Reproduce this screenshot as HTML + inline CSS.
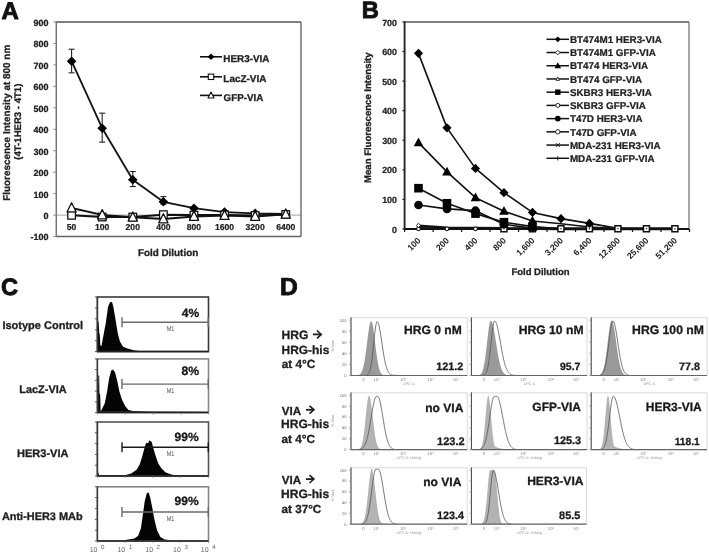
<!DOCTYPE html>
<html><head><meta charset="utf-8"><style>
html,body{margin:0;padding:0;background:#fff;}
body{width:709px;height:555px;overflow:hidden;}
svg{display:block;font-family:"Liberation Sans", sans-serif;text-rendering:geometricPrecision;filter:blur(0.4px);}
</style></head><body>
<svg width="709" height="555" viewBox="0 0 709 555">
<rect width="709" height="555" fill="#fff"/>
<text x="1.47" y="18.65" font-size="23.97" font-weight="bold" fill="#111" stroke="#111" stroke-width="0.9" stroke-linejoin="round">A</text>
<text x="361.63" y="18.25" font-size="23.71" font-weight="bold" fill="#111" stroke="#111" stroke-width="0.9" stroke-linejoin="round">B</text>
<text x="1.1" y="295.35" font-size="23.64" font-weight="bold" fill="#111" stroke="#111" stroke-width="0.9" stroke-linejoin="round">C</text>
<text x="279.97" y="295.05" font-size="24.6" font-weight="bold" fill="#111" stroke="#111" stroke-width="0.9" stroke-linejoin="round">D</text>
<line x1="56.3" y1="215.1" x2="301" y2="215.1" stroke="#b4b4b4" stroke-width="1.2" />
<line x1="56.3" y1="22" x2="301" y2="22" stroke="#555" stroke-width="1.5" />
<line x1="301" y1="22" x2="301" y2="236.5" stroke="#5a5a5a" stroke-width="1.3" />
<line x1="56.3" y1="236.5" x2="301" y2="236.5" stroke="#666" stroke-width="1.5" />
<line x1="56.3" y1="21.3" x2="56.3" y2="237.2" stroke="#777" stroke-width="1.5" />
<line x1="53.3" y1="21.96" x2="56.3" y2="21.96" stroke="#888" stroke-width="1" />
<text x="48.5" y="25.86" font-size="9" text-anchor="end" font-weight="bold" fill="#222" stroke="#222" stroke-width="0.24" stroke-linejoin="round" >900</text>
<line x1="53.3" y1="43.42" x2="56.3" y2="43.42" stroke="#888" stroke-width="1" />
<text x="48.5" y="47.32" font-size="9" text-anchor="end" font-weight="bold" fill="#222" stroke="#222" stroke-width="0.24" stroke-linejoin="round" >800</text>
<line x1="53.3" y1="64.88" x2="56.3" y2="64.88" stroke="#888" stroke-width="1" />
<text x="48.5" y="68.78" font-size="9" text-anchor="end" font-weight="bold" fill="#222" stroke="#222" stroke-width="0.24" stroke-linejoin="round" >700</text>
<line x1="53.3" y1="86.34" x2="56.3" y2="86.34" stroke="#888" stroke-width="1" />
<text x="48.5" y="90.24" font-size="9" text-anchor="end" font-weight="bold" fill="#222" stroke="#222" stroke-width="0.24" stroke-linejoin="round" >600</text>
<line x1="53.3" y1="107.8" x2="56.3" y2="107.8" stroke="#888" stroke-width="1" />
<text x="48.5" y="111.7" font-size="9" text-anchor="end" font-weight="bold" fill="#222" stroke="#222" stroke-width="0.24" stroke-linejoin="round" >500</text>
<line x1="53.3" y1="129.26" x2="56.3" y2="129.26" stroke="#888" stroke-width="1" />
<text x="48.5" y="133.16" font-size="9" text-anchor="end" font-weight="bold" fill="#222" stroke="#222" stroke-width="0.24" stroke-linejoin="round" >400</text>
<line x1="53.3" y1="150.72" x2="56.3" y2="150.72" stroke="#888" stroke-width="1" />
<text x="48.5" y="154.62" font-size="9" text-anchor="end" font-weight="bold" fill="#222" stroke="#222" stroke-width="0.24" stroke-linejoin="round" >300</text>
<line x1="53.3" y1="172.18" x2="56.3" y2="172.18" stroke="#888" stroke-width="1" />
<text x="48.5" y="176.08" font-size="9" text-anchor="end" font-weight="bold" fill="#222" stroke="#222" stroke-width="0.24" stroke-linejoin="round" >200</text>
<line x1="53.3" y1="193.64" x2="56.3" y2="193.64" stroke="#888" stroke-width="1" />
<text x="48.5" y="197.54" font-size="9" text-anchor="end" font-weight="bold" fill="#222" stroke="#222" stroke-width="0.24" stroke-linejoin="round" >100</text>
<line x1="53.3" y1="215.1" x2="56.3" y2="215.1" stroke="#888" stroke-width="1" />
<text x="48.5" y="219" font-size="9" text-anchor="end" font-weight="bold" fill="#222" stroke="#222" stroke-width="0.24" stroke-linejoin="round" >0</text>
<line x1="53.3" y1="236.56" x2="56.3" y2="236.56" stroke="#888" stroke-width="1" />
<text x="48.5" y="240.46" font-size="9" text-anchor="end" font-weight="bold" fill="#222" stroke="#222" stroke-width="0.24" stroke-linejoin="round" >-100</text>
<text x="71.6" y="230.2" font-size="8.6" text-anchor="middle" font-weight="bold" fill="#222" stroke="#222" stroke-width="0.24" stroke-linejoin="round" >50</text>
<text x="102.19" y="230.2" font-size="8.6" text-anchor="middle" font-weight="bold" fill="#222" stroke="#222" stroke-width="0.24" stroke-linejoin="round" >100</text>
<text x="132.78" y="230.2" font-size="8.6" text-anchor="middle" font-weight="bold" fill="#222" stroke="#222" stroke-width="0.24" stroke-linejoin="round" >200</text>
<text x="163.37" y="230.2" font-size="8.6" text-anchor="middle" font-weight="bold" fill="#222" stroke="#222" stroke-width="0.24" stroke-linejoin="round" >400</text>
<text x="193.96" y="230.2" font-size="8.6" text-anchor="middle" font-weight="bold" fill="#222" stroke="#222" stroke-width="0.24" stroke-linejoin="round" >800</text>
<text x="224.55" y="230.2" font-size="8.6" text-anchor="middle" font-weight="bold" fill="#222" stroke="#222" stroke-width="0.24" stroke-linejoin="round" >1600</text>
<text x="255.14" y="230.2" font-size="8.6" text-anchor="middle" font-weight="bold" fill="#222" stroke="#222" stroke-width="0.24" stroke-linejoin="round" >3200</text>
<text x="285.73" y="230.2" font-size="8.6" text-anchor="middle" font-weight="bold" fill="#222" stroke="#222" stroke-width="0.24" stroke-linejoin="round" >6400</text>
<text x="137.96" y="256.05" font-size="9.87" font-weight="bold" fill="#222" stroke="#222" stroke-width="0.3" stroke-linejoin="round">Fold Dilution</text>
<text transform="translate(10.1,200.85) rotate(-90)" font-size="9.94" font-weight="bold" fill="#222" stroke="#222" stroke-width="0.3" stroke-linejoin="round">Fluorescence Intensity at 800 nm</text>
<text transform="translate(21.3,159.73) rotate(-90)" font-size="9.58" font-weight="bold" fill="#222" stroke="#222" stroke-width="0.3" stroke-linejoin="round">(4T-1HER3 - 4T1)</text>
<polyline points="71.6,215.31 102.19,217.03 132.78,217.03 163.37,214.67 193.96,215.1 224.55,214.89 255.14,215.53 285.73,214.46" fill="none" stroke="#111" stroke-width="2" stroke-linejoin="round" />
<polyline points="71.6,208.02 102.19,214.89 132.78,217.25 163.37,218.96 193.96,216.39 224.55,215.53 255.14,216.39 285.73,214.24" fill="none" stroke="#111" stroke-width="2" stroke-linejoin="round" />
<polyline points="71.6,61.23 102.19,128.19 132.78,179.69 163.37,201.79 193.96,208.23 224.55,212.1 255.14,213.38 285.73,213.81" fill="none" stroke="#111" stroke-width="1.8" stroke-linejoin="round" />
<line x1="71.6" y1="72.82" x2="71.6" y2="49.21" stroke="#222" stroke-width="1.1" />
<line x1="68.6" y1="72.82" x2="74.6" y2="72.82" stroke="#222" stroke-width="1.1" />
<line x1="68.6" y1="49.21" x2="74.6" y2="49.21" stroke="#222" stroke-width="1.1" />
<line x1="102.19" y1="142.14" x2="102.19" y2="113.16" stroke="#222" stroke-width="1.1" />
<line x1="99.19" y1="142.14" x2="105.19" y2="142.14" stroke="#222" stroke-width="1.1" />
<line x1="99.19" y1="113.16" x2="105.19" y2="113.16" stroke="#222" stroke-width="1.1" />
<line x1="132.78" y1="186.56" x2="132.78" y2="171.54" stroke="#222" stroke-width="1.1" />
<line x1="129.78" y1="186.56" x2="135.78" y2="186.56" stroke="#222" stroke-width="1.1" />
<line x1="129.78" y1="171.54" x2="135.78" y2="171.54" stroke="#222" stroke-width="1.1" />
<line x1="163.37" y1="204.16" x2="163.37" y2="196.64" stroke="#222" stroke-width="1.1" />
<line x1="160.37" y1="204.16" x2="166.37" y2="204.16" stroke="#222" stroke-width="1.1" />
<line x1="160.37" y1="196.64" x2="166.37" y2="196.64" stroke="#222" stroke-width="1.1" />
<path d="M71.6,56.43 L76.4,61.23 L71.6,66.03 L66.8,61.23 Z" fill="#000" stroke="none" stroke-width="1" />
<path d="M102.19,123.39 L106.99,128.19 L102.19,132.99 L97.39,128.19 Z" fill="#000" stroke="none" stroke-width="1" />
<path d="M132.78,174.89 L137.58,179.69 L132.78,184.49 L127.98,179.69 Z" fill="#000" stroke="none" stroke-width="1" />
<path d="M163.37,196.99 L168.17,201.79 L163.37,206.59 L158.57,201.79 Z" fill="#000" stroke="none" stroke-width="1" />
<path d="M193.96,203.43 L198.76,208.23 L193.96,213.03 L189.16,208.23 Z" fill="#000" stroke="none" stroke-width="1" />
<path d="M224.55,207.3 L229.35,212.1 L224.55,216.9 L219.75,212.1 Z" fill="#000" stroke="none" stroke-width="1" />
<path d="M255.14,208.58 L259.94,213.38 L255.14,218.18 L250.34,213.38 Z" fill="#000" stroke="none" stroke-width="1" />
<path d="M285.73,209.01 L290.53,213.81 L285.73,218.61 L280.93,213.81 Z" fill="#000" stroke="none" stroke-width="1" />
<rect x="67.8" y="211.51" width="7.6" height="7.6" fill="#fff" stroke="#111" stroke-width="1.3"/>
<rect x="98.39" y="213.23" width="7.6" height="7.6" fill="#fff" stroke="#111" stroke-width="1.3"/>
<rect x="128.98" y="213.23" width="7.6" height="7.6" fill="#fff" stroke="#111" stroke-width="1.3"/>
<rect x="159.57" y="210.87" width="7.6" height="7.6" fill="#fff" stroke="#111" stroke-width="1.3"/>
<rect x="190.16" y="211.3" width="7.6" height="7.6" fill="#fff" stroke="#111" stroke-width="1.3"/>
<rect x="220.75" y="211.09" width="7.6" height="7.6" fill="#fff" stroke="#111" stroke-width="1.3"/>
<rect x="251.34" y="211.73" width="7.6" height="7.6" fill="#fff" stroke="#111" stroke-width="1.3"/>
<rect x="281.93" y="210.66" width="7.6" height="7.6" fill="#fff" stroke="#111" stroke-width="1.3"/>
<path d="M71.6,202.73 L76.2,211.93 L67,211.93 Z" fill="#fff" stroke="#111" stroke-width="1.3" stroke-linejoin="round"/>
<path d="M102.19,209.6 L106.79,218.8 L97.59,218.8 Z" fill="#fff" stroke="#111" stroke-width="1.3" stroke-linejoin="round"/>
<path d="M132.78,211.96 L137.38,221.16 L128.18,221.16 Z" fill="#fff" stroke="#111" stroke-width="1.3" stroke-linejoin="round"/>
<path d="M163.37,213.67 L167.97,222.87 L158.77,222.87 Z" fill="#fff" stroke="#111" stroke-width="1.3" stroke-linejoin="round"/>
<path d="M193.96,211.1 L198.56,220.3 L189.36,220.3 Z" fill="#fff" stroke="#111" stroke-width="1.3" stroke-linejoin="round"/>
<path d="M224.55,210.24 L229.15,219.44 L219.95,219.44 Z" fill="#fff" stroke="#111" stroke-width="1.3" stroke-linejoin="round"/>
<path d="M255.14,211.1 L259.74,220.3 L250.54,220.3 Z" fill="#fff" stroke="#111" stroke-width="1.3" stroke-linejoin="round"/>
<path d="M285.73,208.95 L290.33,218.15 L281.13,218.15 Z" fill="#fff" stroke="#111" stroke-width="1.3" stroke-linejoin="round"/>
<line x1="200" y1="56.8" x2="222" y2="56.8" stroke="#111" stroke-width="1.6" />
<path d="M211,53.5 L214.3,56.8 L211,60.1 L207.7,56.8 Z" fill="#000" stroke="none" stroke-width="1" />
<text x="223.36" y="62.05" font-size="9.88" font-weight="bold" fill="#222" stroke="#222" stroke-width="0.3" stroke-linejoin="round">HER3-VIA</text>
<line x1="200" y1="76.8" x2="222" y2="76.8" stroke="#111" stroke-width="1.6" />
<rect x="208.3" y="74.1" width="5.4" height="5.4" fill="#fff" stroke="#111" stroke-width="1.1"/>
<text x="223.35" y="82.05" font-size="9.93" font-weight="bold" fill="#222" stroke="#222" stroke-width="0.3" stroke-linejoin="round">LacZ-VIA</text>
<line x1="200" y1="95.4" x2="222" y2="95.4" stroke="#111" stroke-width="1.6" />
<path d="M211,91.95 L214,97.95 L208,97.95 Z" fill="#fff" stroke="#111" stroke-width="1.1" stroke-linejoin="round"/>
<text x="223.56" y="100.65" font-size="9.79" font-weight="bold" fill="#222" stroke="#222" stroke-width="0.3" stroke-linejoin="round">GFP-VIA</text>
<line x1="404.6" y1="22" x2="689" y2="22" stroke="#555" stroke-width="1.3" />
<line x1="689" y1="22" x2="689" y2="229" stroke="#777" stroke-width="1.3" />
<line x1="402.4" y1="22.01" x2="404.6" y2="22.01" stroke="#222" stroke-width="1.2" />
<text x="397" y="25.61" font-size="8.9" text-anchor="end" font-weight="bold" fill="#222" stroke="#222" stroke-width="0.24" stroke-linejoin="round" >700</text>
<line x1="402.4" y1="51.58" x2="404.6" y2="51.58" stroke="#222" stroke-width="1.2" />
<text x="397" y="55.18" font-size="8.9" text-anchor="end" font-weight="bold" fill="#222" stroke="#222" stroke-width="0.24" stroke-linejoin="round" >600</text>
<line x1="402.4" y1="81.15" x2="404.6" y2="81.15" stroke="#222" stroke-width="1.2" />
<text x="397" y="84.75" font-size="8.9" text-anchor="end" font-weight="bold" fill="#222" stroke="#222" stroke-width="0.24" stroke-linejoin="round" >500</text>
<line x1="402.4" y1="110.72" x2="404.6" y2="110.72" stroke="#222" stroke-width="1.2" />
<text x="397" y="114.32" font-size="8.9" text-anchor="end" font-weight="bold" fill="#222" stroke="#222" stroke-width="0.24" stroke-linejoin="round" >400</text>
<line x1="402.4" y1="140.29" x2="404.6" y2="140.29" stroke="#222" stroke-width="1.2" />
<text x="397" y="143.89" font-size="8.9" text-anchor="end" font-weight="bold" fill="#222" stroke="#222" stroke-width="0.24" stroke-linejoin="round" >300</text>
<line x1="402.4" y1="169.86" x2="404.6" y2="169.86" stroke="#222" stroke-width="1.2" />
<text x="397" y="173.46" font-size="8.9" text-anchor="end" font-weight="bold" fill="#222" stroke="#222" stroke-width="0.24" stroke-linejoin="round" >200</text>
<line x1="402.4" y1="199.43" x2="404.6" y2="199.43" stroke="#222" stroke-width="1.2" />
<text x="397" y="203.03" font-size="8.9" text-anchor="end" font-weight="bold" fill="#222" stroke="#222" stroke-width="0.24" stroke-linejoin="round" >100</text>
<line x1="402.4" y1="229" x2="404.6" y2="229" stroke="#222" stroke-width="1.2" />
<text x="397" y="232.6" font-size="8.9" text-anchor="end" font-weight="bold" fill="#222" stroke="#222" stroke-width="0.24" stroke-linejoin="round" >0</text>
<line x1="404.6" y1="229" x2="404.6" y2="232" stroke="#111" stroke-width="1.2" />
<line x1="433.09" y1="229" x2="433.09" y2="232" stroke="#111" stroke-width="1.2" />
<line x1="461.58" y1="229" x2="461.58" y2="232" stroke="#111" stroke-width="1.2" />
<line x1="490.07" y1="229" x2="490.07" y2="232" stroke="#111" stroke-width="1.2" />
<line x1="518.56" y1="229" x2="518.56" y2="232" stroke="#111" stroke-width="1.2" />
<line x1="547.05" y1="229" x2="547.05" y2="232" stroke="#111" stroke-width="1.2" />
<line x1="575.54" y1="229" x2="575.54" y2="232" stroke="#111" stroke-width="1.2" />
<line x1="604.03" y1="229" x2="604.03" y2="232" stroke="#111" stroke-width="1.2" />
<line x1="632.52" y1="229" x2="632.52" y2="232" stroke="#111" stroke-width="1.2" />
<line x1="661.01" y1="229" x2="661.01" y2="232" stroke="#111" stroke-width="1.2" />
<line x1="689.5" y1="229" x2="689.5" y2="232" stroke="#111" stroke-width="1.2" />
<text transform="translate(419,238.9) rotate(-45)" font-size="8.6" font-weight="bold" text-anchor="end" fill="#222" dy="3">100</text>
<text transform="translate(447.49,238.9) rotate(-45)" font-size="8.6" font-weight="bold" text-anchor="end" fill="#222" dy="3">200</text>
<text transform="translate(475.98,238.9) rotate(-45)" font-size="8.6" font-weight="bold" text-anchor="end" fill="#222" dy="3">400</text>
<text transform="translate(504.47,238.9) rotate(-45)" font-size="8.6" font-weight="bold" text-anchor="end" fill="#222" dy="3">800</text>
<text transform="translate(532.96,238.9) rotate(-45)" font-size="8.6" font-weight="bold" text-anchor="end" fill="#222" dy="3">1,600</text>
<text transform="translate(561.45,238.9) rotate(-45)" font-size="8.6" font-weight="bold" text-anchor="end" fill="#222" dy="3">3,200</text>
<text transform="translate(589.94,238.9) rotate(-45)" font-size="8.6" font-weight="bold" text-anchor="end" fill="#222" dy="3">6,400</text>
<text transform="translate(618.43,238.9) rotate(-45)" font-size="8.6" font-weight="bold" text-anchor="end" fill="#222" dy="3">12,800</text>
<text transform="translate(646.92,238.9) rotate(-45)" font-size="8.6" font-weight="bold" text-anchor="end" fill="#222" dy="3">25,600</text>
<text transform="translate(675.41,238.9) rotate(-45)" font-size="8.6" font-weight="bold" text-anchor="end" fill="#222" dy="3">51,200</text>
<text x="511.38" y="275.45" font-size="9.53" font-weight="bold" fill="#222" stroke="#222" stroke-width="0.3" stroke-linejoin="round">Fold Dilution</text>
<text transform="translate(371.2,182.92) rotate(-90)" font-size="9.56" font-weight="bold" fill="#222" stroke="#222" stroke-width="0.3" stroke-linejoin="round">Mean Fluorescence Intensity</text>
<polyline points="418.5,228.41 446.99,228.7 475.48,228.7 503.97,228.7 532.46,228.7 560.95,228.85 589.44,228.85 617.93,228.85 646.42,228.85 674.91,228.85" fill="none" stroke="#111" stroke-width="2.6" stroke-linejoin="round" />
<polyline points="418.5,225.75 446.99,227.82 475.48,228.11 503.97,228.41 532.46,228.7 560.95,228.7 589.44,228.7 617.93,228.7 646.42,228.7 674.91,228.7" fill="none" stroke="#111" stroke-width="2.6" stroke-linejoin="round" />
<polyline points="418.5,205.05 446.99,208.89 475.48,210.67 503.97,224.27 532.46,228.41 560.95,228.7 589.44,228.7 617.93,228.7 646.42,228.7 674.91,228.7" fill="none" stroke="#111" stroke-width="1.6" stroke-linejoin="round" />
<polyline points="418.5,188.19 446.99,203.27 475.48,213.62 503.97,222.2 532.46,226.63 560.95,228.7 589.44,228.7 617.93,228.7 646.42,228.7 674.91,228.7" fill="none" stroke="#111" stroke-width="1.6" stroke-linejoin="round" />
<polyline points="418.5,142.66 446.99,171.93 475.48,197.66 503.97,211.26 532.46,221.02 560.95,223.68 589.44,226.93 617.93,228.7 646.42,228.7 674.91,228.7" fill="none" stroke="#111" stroke-width="1.6" stroke-linejoin="round" />
<polyline points="418.5,53.35 446.99,127.87 475.48,168.38 503.97,192.63 532.46,212.44 560.95,218.65 589.44,223.38 617.93,228.41 646.42,228.7 674.91,228.7" fill="none" stroke="#111" stroke-width="1.6" stroke-linejoin="round" />
<line x1="404.6" y1="21.4" x2="404.6" y2="230" stroke="#262626" stroke-width="1.9" />
<line x1="404.6" y1="229" x2="689" y2="229" stroke="#111" stroke-width="1.8" />
<circle cx="418.5" cy="228.85" r="1.9" fill="#fff" stroke="#111" stroke-width="1.1"/>
<circle cx="446.99" cy="228.85" r="1.9" fill="#fff" stroke="#111" stroke-width="1.1"/>
<circle cx="475.48" cy="228.85" r="1.9" fill="#fff" stroke="#111" stroke-width="1.1"/>
<rect x="500.97" y="225.76" width="6" height="6" fill="#fff" stroke="#111" stroke-width="1.5"/>
<circle cx="503.97" cy="228.76" r="0.75" fill="#222" stroke="none" stroke-width="1"/>
<rect x="529.46" y="225.76" width="6" height="6" fill="#fff" stroke="#111" stroke-width="1.5"/>
<circle cx="532.46" cy="228.76" r="0.75" fill="#222" stroke="none" stroke-width="1"/>
<rect x="557.95" y="225.76" width="6" height="6" fill="#fff" stroke="#111" stroke-width="1.5"/>
<circle cx="560.95" cy="228.76" r="0.75" fill="#222" stroke="none" stroke-width="1"/>
<rect x="586.44" y="225.76" width="6" height="6" fill="#fff" stroke="#111" stroke-width="1.5"/>
<circle cx="589.44" cy="228.76" r="0.75" fill="#222" stroke="none" stroke-width="1"/>
<rect x="614.93" y="225.76" width="6" height="6" fill="#fff" stroke="#111" stroke-width="1.5"/>
<circle cx="617.93" cy="228.76" r="0.75" fill="#222" stroke="none" stroke-width="1"/>
<rect x="643.42" y="225.76" width="6" height="6" fill="#fff" stroke="#111" stroke-width="1.5"/>
<circle cx="646.42" cy="228.76" r="0.75" fill="#222" stroke="none" stroke-width="1"/>
<rect x="671.91" y="225.76" width="6" height="6" fill="#fff" stroke="#111" stroke-width="1.5"/>
<circle cx="674.91" cy="228.76" r="0.75" fill="#222" stroke="none" stroke-width="1"/>
<path d="M418.5,223.25 L420.7,225.45 L418.5,227.65 L416.3,225.45 Z" fill="#fff" stroke="#111" stroke-width="0.9" />
<circle cx="418.5" cy="205.05" r="4.3" fill="#000" stroke="none" stroke-width="1"/>
<circle cx="446.99" cy="208.89" r="4.3" fill="#000" stroke="none" stroke-width="1"/>
<circle cx="475.48" cy="210.67" r="4.3" fill="#000" stroke="none" stroke-width="1"/>
<circle cx="503.97" cy="224.27" r="4.3" fill="#000" stroke="none" stroke-width="1"/>
<rect x="414.2" y="183.89" width="8.6" height="8.6" fill="#000" stroke="none" stroke-width="0"/>
<rect x="442.69" y="198.97" width="8.6" height="8.6" fill="#000" stroke="none" stroke-width="0"/>
<rect x="471.18" y="209.32" width="8.6" height="8.6" fill="#000" stroke="none" stroke-width="0"/>
<rect x="499.67" y="217.9" width="8.6" height="8.6" fill="#000" stroke="none" stroke-width="0"/>
<rect x="528.16" y="222.33" width="8.6" height="8.6" fill="#000" stroke="none" stroke-width="0"/>
<path d="M418.5,137.46 L423.3,146.26 L413.7,146.26 Z" fill="#000" stroke="none" stroke-width="1" />
<path d="M446.99,166.73 L451.79,175.53 L442.19,175.53 Z" fill="#000" stroke="none" stroke-width="1" />
<path d="M475.48,192.46 L480.28,201.26 L470.68,201.26 Z" fill="#000" stroke="none" stroke-width="1" />
<path d="M503.97,206.06 L508.77,214.86 L499.17,214.86 Z" fill="#000" stroke="none" stroke-width="1" />
<path d="M532.46,215.82 L537.26,224.62 L527.66,224.62 Z" fill="#000" stroke="none" stroke-width="1" />
<path d="M418.5,48.75 L423.1,53.35 L418.5,57.95 L413.9,53.35 Z" fill="#000" stroke="none" stroke-width="1" />
<path d="M446.99,123.27 L451.59,127.87 L446.99,132.47 L442.39,127.87 Z" fill="#000" stroke="none" stroke-width="1" />
<path d="M475.48,163.78 L480.08,168.38 L475.48,172.98 L470.88,168.38 Z" fill="#000" stroke="none" stroke-width="1" />
<path d="M503.97,188.03 L508.57,192.63 L503.97,197.23 L499.37,192.63 Z" fill="#000" stroke="none" stroke-width="1" />
<path d="M532.46,207.84 L537.06,212.44 L532.46,217.04 L527.86,212.44 Z" fill="#000" stroke="none" stroke-width="1" />
<path d="M560.95,214.05 L565.55,218.65 L560.95,223.25 L556.35,218.65 Z" fill="#000" stroke="none" stroke-width="1" />
<path d="M589.44,218.78 L594.04,223.38 L589.44,227.98 L584.84,223.38 Z" fill="#000" stroke="none" stroke-width="1" />
<line x1="546.5" y1="39.3" x2="569" y2="39.3" stroke="#111" stroke-width="1.5" />
<path d="M557.8,36.4 L560.7,39.3 L557.8,42.2 L554.9,39.3 Z" fill="#000" stroke="none" stroke-width="1" />
<text x="569.9" y="43" font-size="9.85" text-anchor="start" font-weight="bold" fill="#222" stroke="#222" stroke-width="0.24" stroke-linejoin="round" >BT474M1 HER3-VIA</text>
<line x1="546.5" y1="52.52" x2="569" y2="52.52" stroke="#111" stroke-width="1.5" />
<path d="M557.8,50.32 L560,52.52 L557.8,54.72 L555.6,52.52 Z" fill="#fff" stroke="#111" stroke-width="0.9" />
<text x="569.9" y="56.22" font-size="9.85" text-anchor="start" font-weight="bold" fill="#222" stroke="#222" stroke-width="0.24" stroke-linejoin="round" >BT474M1 GFP-VIA</text>
<line x1="546.5" y1="65.74" x2="569" y2="65.74" stroke="#111" stroke-width="1.5" />
<path d="M557.8,62.14 L561.1,68.14 L554.5,68.14 Z" fill="#000" stroke="none" stroke-width="1" />
<text x="569.9" y="69.44" font-size="9.85" text-anchor="start" font-weight="bold" fill="#222" stroke="#222" stroke-width="0.24" stroke-linejoin="round" >BT474 HER3-VIA</text>
<line x1="546.5" y1="78.96" x2="569" y2="78.96" stroke="#111" stroke-width="1.5" />
<path d="M557.8,76.96 L559.6,80.36 L556,80.36 Z" fill="#fff" stroke="#111" stroke-width="0.8" />
<text x="569.9" y="82.66" font-size="9.85" text-anchor="start" font-weight="bold" fill="#222" stroke="#222" stroke-width="0.24" stroke-linejoin="round" >BT474 GFP-VIA</text>
<line x1="546.5" y1="92.18" x2="569" y2="92.18" stroke="#111" stroke-width="1.5" />
<rect x="555.1" y="89.48" width="5.4" height="5.4" fill="#000" stroke="none" stroke-width="0"/>
<text x="569.9" y="95.88" font-size="9.85" text-anchor="start" font-weight="bold" fill="#222" stroke="#222" stroke-width="0.24" stroke-linejoin="round" >SKBR3 HER3-VIA</text>
<line x1="546.5" y1="105.4" x2="569" y2="105.4" stroke="#111" stroke-width="1.5" />
<circle cx="557.8" cy="105.4" r="2" fill="#fff" stroke="#111" stroke-width="0.9"/>
<text x="569.9" y="109.1" font-size="9.85" text-anchor="start" font-weight="bold" fill="#222" stroke="#222" stroke-width="0.24" stroke-linejoin="round" >SKBR3 GFP-VIA</text>
<line x1="546.5" y1="118.62" x2="569" y2="118.62" stroke="#111" stroke-width="1.5" />
<circle cx="557.8" cy="118.62" r="2.9" fill="#000" stroke="none" stroke-width="1"/>
<text x="569.9" y="122.32" font-size="9.85" text-anchor="start" font-weight="bold" fill="#222" stroke="#222" stroke-width="0.24" stroke-linejoin="round" >T47D HER3-VIA</text>
<line x1="546.5" y1="131.84" x2="569" y2="131.84" stroke="#111" stroke-width="1.5" />
<circle cx="557.8" cy="131.84" r="2.2" fill="#fff" stroke="#111" stroke-width="0.9"/>
<text x="569.9" y="135.54" font-size="9.85" text-anchor="start" font-weight="bold" fill="#222" stroke="#222" stroke-width="0.24" stroke-linejoin="round" >T47D GFP-VIA</text>
<line x1="546.5" y1="145.06" x2="569" y2="145.06" stroke="#111" stroke-width="1.5" />
<line x1="555.8" y1="143.06" x2="559.8" y2="147.06" stroke="#111" stroke-width="0.9" />
<line x1="555.8" y1="147.06" x2="559.8" y2="143.06" stroke="#111" stroke-width="0.9" />
<text x="569.9" y="148.76" font-size="9.85" text-anchor="start" font-weight="bold" fill="#222" stroke="#222" stroke-width="0.24" stroke-linejoin="round" >MDA-231 HER3-VIA</text>
<line x1="546.5" y1="158.28" x2="569" y2="158.28" stroke="#111" stroke-width="1.5" />
<line x1="557.8" y1="156.08" x2="557.8" y2="160.48" stroke="#111" stroke-width="0.9" />
<text x="569.9" y="161.98" font-size="9.85" text-anchor="start" font-weight="bold" fill="#222" stroke="#222" stroke-width="0.24" stroke-linejoin="round" >MDA-231 GFP-VIA</text>
<path d="M97.6,351.6 L97.6,351.5 L97.8,321.5 L98.6,321.8 L99.3,333 L99.8,335 L100.3,345.3 L101.5,345.9 L103.7,334 L105.8,323.1 L108,306.9 L109.8,302.5 L111.2,301.8 L112.2,302.5 L113.4,306.9 L115.6,319.9 L117.7,332.9 L119.9,341.5 L123.1,346.7 L127.5,348.5 L132.9,350 L138.3,350.9 L150,351.2 L208,351.3 L208,351.6 Z" fill="#050505" stroke="none" stroke-width="1" />
<rect x="97.4" y="297" width="111.1" height="54.6" fill="none" stroke="#3a3a3a" stroke-width="1.6"/>
<line x1="97.4" y1="351.6" x2="208.5" y2="351.6" stroke="#222" stroke-width="1.5" />
<line x1="97.4" y1="297" x2="97.4" y2="351.6" stroke="#333" stroke-width="1.3" />
<line x1="94.9" y1="297" x2="97.4" y2="297" stroke="#444" stroke-width="0.9" />
<line x1="95.9" y1="299.73" x2="97.4" y2="299.73" stroke="#777" stroke-width="0.6" />
<line x1="95.9" y1="302.46" x2="97.4" y2="302.46" stroke="#777" stroke-width="0.6" />
<line x1="95.9" y1="305.19" x2="97.4" y2="305.19" stroke="#777" stroke-width="0.6" />
<line x1="94.9" y1="307.92" x2="97.4" y2="307.92" stroke="#444" stroke-width="0.9" />
<line x1="95.9" y1="310.65" x2="97.4" y2="310.65" stroke="#777" stroke-width="0.6" />
<line x1="95.9" y1="313.38" x2="97.4" y2="313.38" stroke="#777" stroke-width="0.6" />
<line x1="95.9" y1="316.11" x2="97.4" y2="316.11" stroke="#777" stroke-width="0.6" />
<line x1="94.9" y1="318.84" x2="97.4" y2="318.84" stroke="#444" stroke-width="0.9" />
<line x1="95.9" y1="321.57" x2="97.4" y2="321.57" stroke="#777" stroke-width="0.6" />
<line x1="95.9" y1="324.3" x2="97.4" y2="324.3" stroke="#777" stroke-width="0.6" />
<line x1="95.9" y1="327.03" x2="97.4" y2="327.03" stroke="#777" stroke-width="0.6" />
<line x1="94.9" y1="329.76" x2="97.4" y2="329.76" stroke="#444" stroke-width="0.9" />
<line x1="95.9" y1="332.49" x2="97.4" y2="332.49" stroke="#777" stroke-width="0.6" />
<line x1="95.9" y1="335.22" x2="97.4" y2="335.22" stroke="#777" stroke-width="0.6" />
<line x1="95.9" y1="337.95" x2="97.4" y2="337.95" stroke="#777" stroke-width="0.6" />
<line x1="94.9" y1="340.68" x2="97.4" y2="340.68" stroke="#444" stroke-width="0.9" />
<line x1="95.9" y1="343.41" x2="97.4" y2="343.41" stroke="#777" stroke-width="0.6" />
<line x1="95.9" y1="346.14" x2="97.4" y2="346.14" stroke="#777" stroke-width="0.6" />
<line x1="95.9" y1="348.87" x2="97.4" y2="348.87" stroke="#777" stroke-width="0.6" />
<line x1="94.9" y1="351.6" x2="97.4" y2="351.6" stroke="#444" stroke-width="0.9" />
<line x1="122" y1="322.2" x2="208.3" y2="322.2" stroke="#6a6a6a" stroke-width="1.4" />
<line x1="122" y1="317.2" x2="122" y2="327.2" stroke="#6a6a6a" stroke-width="1.4" />
<line x1="208.3" y1="317.2" x2="208.3" y2="327.2" stroke="#6a6a6a" stroke-width="1.4" />
<text x="170.6" y="331.1" font-size="7" text-anchor="middle" font-weight="normal" fill="#4a4a4a" textLength="7.6" lengthAdjust="spacingAndGlyphs">M1</text>
<text x="181.83" y="316.65" font-size="12" font-weight="bold" fill="#1a1a1a" stroke="#1a1a1a" stroke-width="0.3" stroke-linejoin="round">4%</text>
<text x="2.39" y="328.65" font-size="11.03" font-weight="bold" fill="#1e1e1e" stroke="#1e1e1e" stroke-width="0.3" stroke-linejoin="round">Isotype Control</text>
<path d="M97.8,412.6 L97.8,412.6 L98.2,375.4 L99.2,375.6 L99.4,393.3 L100.2,395 L100.6,411 L101,411.1 L104.7,403.5 L106.9,392.7 L109.1,378.6 L111.2,370.5 L112.9,369.6 L115,372.2 L117.2,380.8 L119.4,391.6 L122,399.7 L125.3,406.2 L128.5,410 L132.9,411.1 L150,411.6 L208,411.8 L208,412.6 Z" fill="#050505" stroke="none" stroke-width="1" />
<rect x="97.4" y="358.9" width="111.1" height="53.7" fill="none" stroke="#888" stroke-width="1.6"/>
<line x1="97.4" y1="412.6" x2="208.5" y2="412.6" stroke="#222" stroke-width="1.5" />
<line x1="97.4" y1="358.9" x2="97.4" y2="412.6" stroke="#333" stroke-width="1.3" />
<line x1="94.9" y1="358.9" x2="97.4" y2="358.9" stroke="#444" stroke-width="0.9" />
<line x1="95.9" y1="361.58" x2="97.4" y2="361.58" stroke="#777" stroke-width="0.6" />
<line x1="95.9" y1="364.27" x2="97.4" y2="364.27" stroke="#777" stroke-width="0.6" />
<line x1="95.9" y1="366.95" x2="97.4" y2="366.95" stroke="#777" stroke-width="0.6" />
<line x1="94.9" y1="369.64" x2="97.4" y2="369.64" stroke="#444" stroke-width="0.9" />
<line x1="95.9" y1="372.32" x2="97.4" y2="372.32" stroke="#777" stroke-width="0.6" />
<line x1="95.9" y1="375.01" x2="97.4" y2="375.01" stroke="#777" stroke-width="0.6" />
<line x1="95.9" y1="377.69" x2="97.4" y2="377.69" stroke="#777" stroke-width="0.6" />
<line x1="94.9" y1="380.38" x2="97.4" y2="380.38" stroke="#444" stroke-width="0.9" />
<line x1="95.9" y1="383.06" x2="97.4" y2="383.06" stroke="#777" stroke-width="0.6" />
<line x1="95.9" y1="385.75" x2="97.4" y2="385.75" stroke="#777" stroke-width="0.6" />
<line x1="95.9" y1="388.44" x2="97.4" y2="388.44" stroke="#777" stroke-width="0.6" />
<line x1="94.9" y1="391.12" x2="97.4" y2="391.12" stroke="#444" stroke-width="0.9" />
<line x1="95.9" y1="393.81" x2="97.4" y2="393.81" stroke="#777" stroke-width="0.6" />
<line x1="95.9" y1="396.49" x2="97.4" y2="396.49" stroke="#777" stroke-width="0.6" />
<line x1="95.9" y1="399.18" x2="97.4" y2="399.18" stroke="#777" stroke-width="0.6" />
<line x1="94.9" y1="401.86" x2="97.4" y2="401.86" stroke="#444" stroke-width="0.9" />
<line x1="95.9" y1="404.55" x2="97.4" y2="404.55" stroke="#777" stroke-width="0.6" />
<line x1="95.9" y1="407.23" x2="97.4" y2="407.23" stroke="#777" stroke-width="0.6" />
<line x1="95.9" y1="409.92" x2="97.4" y2="409.92" stroke="#777" stroke-width="0.6" />
<line x1="94.9" y1="412.6" x2="97.4" y2="412.6" stroke="#444" stroke-width="0.9" />
<line x1="122" y1="384.1" x2="208.3" y2="384.1" stroke="#6a6a6a" stroke-width="1.4" />
<line x1="122" y1="379.1" x2="122" y2="389.1" stroke="#6a6a6a" stroke-width="1.4" />
<line x1="208.3" y1="379.1" x2="208.3" y2="389.1" stroke="#6a6a6a" stroke-width="1.4" />
<text x="170.6" y="393" font-size="7" text-anchor="middle" font-weight="normal" fill="#4a4a4a" textLength="7.6" lengthAdjust="spacingAndGlyphs">M1</text>
<text x="181.58" y="375.25" font-size="12.18" font-weight="bold" fill="#1a1a1a" stroke="#1a1a1a" stroke-width="0.3" stroke-linejoin="round">8%</text>
<text x="19.3" y="392.55" font-size="10.91" font-weight="bold" fill="#1e1e1e" stroke="#1e1e1e" stroke-width="0.3" stroke-linejoin="round">LacZ-VIA</text>
<path d="M97.8,476 L97.8,475.6 L98.2,472 L99,475.2 L125.8,475.1 L131.2,473.5 L136.6,469.7 L139.8,464.3 L142.5,455.6 L144.7,447 L146.3,442.7 L148,443.2 L149.6,440.3 L151.7,442.1 L153.3,448.1 L155.5,455.6 L158.2,463.2 L161.5,468.6 L165.8,472.4 L171.2,474.6 L175.5,475.3 L208,475.6 L208,476 Z" fill="#050505" stroke="none" stroke-width="1" />
<rect x="97.4" y="422" width="111.1" height="54" fill="none" stroke="#555" stroke-width="1.6"/>
<line x1="97.4" y1="476" x2="208.5" y2="476" stroke="#222" stroke-width="1.5" />
<line x1="97.4" y1="422" x2="97.4" y2="476" stroke="#333" stroke-width="1.3" />
<line x1="94.9" y1="422" x2="97.4" y2="422" stroke="#444" stroke-width="0.9" />
<line x1="95.9" y1="424.7" x2="97.4" y2="424.7" stroke="#777" stroke-width="0.6" />
<line x1="95.9" y1="427.4" x2="97.4" y2="427.4" stroke="#777" stroke-width="0.6" />
<line x1="95.9" y1="430.1" x2="97.4" y2="430.1" stroke="#777" stroke-width="0.6" />
<line x1="94.9" y1="432.8" x2="97.4" y2="432.8" stroke="#444" stroke-width="0.9" />
<line x1="95.9" y1="435.5" x2="97.4" y2="435.5" stroke="#777" stroke-width="0.6" />
<line x1="95.9" y1="438.2" x2="97.4" y2="438.2" stroke="#777" stroke-width="0.6" />
<line x1="95.9" y1="440.9" x2="97.4" y2="440.9" stroke="#777" stroke-width="0.6" />
<line x1="94.9" y1="443.6" x2="97.4" y2="443.6" stroke="#444" stroke-width="0.9" />
<line x1="95.9" y1="446.3" x2="97.4" y2="446.3" stroke="#777" stroke-width="0.6" />
<line x1="95.9" y1="449" x2="97.4" y2="449" stroke="#777" stroke-width="0.6" />
<line x1="95.9" y1="451.7" x2="97.4" y2="451.7" stroke="#777" stroke-width="0.6" />
<line x1="94.9" y1="454.4" x2="97.4" y2="454.4" stroke="#444" stroke-width="0.9" />
<line x1="95.9" y1="457.1" x2="97.4" y2="457.1" stroke="#777" stroke-width="0.6" />
<line x1="95.9" y1="459.8" x2="97.4" y2="459.8" stroke="#777" stroke-width="0.6" />
<line x1="95.9" y1="462.5" x2="97.4" y2="462.5" stroke="#777" stroke-width="0.6" />
<line x1="94.9" y1="465.2" x2="97.4" y2="465.2" stroke="#444" stroke-width="0.9" />
<line x1="95.9" y1="467.9" x2="97.4" y2="467.9" stroke="#777" stroke-width="0.6" />
<line x1="95.9" y1="470.6" x2="97.4" y2="470.6" stroke="#777" stroke-width="0.6" />
<line x1="95.9" y1="473.3" x2="97.4" y2="473.3" stroke="#777" stroke-width="0.6" />
<line x1="94.9" y1="476" x2="97.4" y2="476" stroke="#444" stroke-width="0.9" />
<line x1="122" y1="447.2" x2="208.3" y2="447.2" stroke="#1a1a1a" stroke-width="1.4" />
<line x1="122" y1="442.2" x2="122" y2="452.2" stroke="#1a1a1a" stroke-width="1.4" />
<line x1="208.3" y1="442.2" x2="208.3" y2="452.2" stroke="#1a1a1a" stroke-width="1.4" />
<text x="170.6" y="456.1" font-size="7" text-anchor="middle" font-weight="normal" fill="#4a4a4a" textLength="7.6" lengthAdjust="spacingAndGlyphs">M1</text>
<text x="174.59" y="441.25" font-size="12.04" font-weight="bold" fill="#1a1a1a" stroke="#1a1a1a" stroke-width="0.3" stroke-linejoin="round">99%</text>
<text x="16.99" y="456.65" font-size="11.04" font-weight="bold" fill="#1e1e1e" stroke="#1e1e1e" stroke-width="0.3" stroke-linejoin="round">HER3-VIA</text>
<path d="M97.8,541 L97.8,540.5 L123.6,540.2 L134.4,538.5 L138.2,535.8 L140.9,528.2 L143.1,513.1 L144.7,501.2 L146.9,493.1 L148.5,492.4 L150.1,496.9 L152.3,507.7 L154.4,519.6 L157.1,530.4 L160.4,536.9 L164.7,539.6 L171.2,540.3 L208,540.5 L208,541 Z" fill="#050505" stroke="none" stroke-width="1" />
<rect x="97.4" y="486.8" width="111.1" height="54.2" fill="none" stroke="#858585" stroke-width="1.6"/>
<line x1="97.4" y1="541" x2="208.5" y2="541" stroke="#222" stroke-width="1.5" />
<line x1="97.4" y1="486.8" x2="97.4" y2="541" stroke="#333" stroke-width="1.3" />
<line x1="94.9" y1="486.8" x2="97.4" y2="486.8" stroke="#444" stroke-width="0.9" />
<line x1="95.9" y1="489.51" x2="97.4" y2="489.51" stroke="#777" stroke-width="0.6" />
<line x1="95.9" y1="492.22" x2="97.4" y2="492.22" stroke="#777" stroke-width="0.6" />
<line x1="95.9" y1="494.93" x2="97.4" y2="494.93" stroke="#777" stroke-width="0.6" />
<line x1="94.9" y1="497.64" x2="97.4" y2="497.64" stroke="#444" stroke-width="0.9" />
<line x1="95.9" y1="500.35" x2="97.4" y2="500.35" stroke="#777" stroke-width="0.6" />
<line x1="95.9" y1="503.06" x2="97.4" y2="503.06" stroke="#777" stroke-width="0.6" />
<line x1="95.9" y1="505.77" x2="97.4" y2="505.77" stroke="#777" stroke-width="0.6" />
<line x1="94.9" y1="508.48" x2="97.4" y2="508.48" stroke="#444" stroke-width="0.9" />
<line x1="95.9" y1="511.19" x2="97.4" y2="511.19" stroke="#777" stroke-width="0.6" />
<line x1="95.9" y1="513.9" x2="97.4" y2="513.9" stroke="#777" stroke-width="0.6" />
<line x1="95.9" y1="516.61" x2="97.4" y2="516.61" stroke="#777" stroke-width="0.6" />
<line x1="94.9" y1="519.32" x2="97.4" y2="519.32" stroke="#444" stroke-width="0.9" />
<line x1="95.9" y1="522.03" x2="97.4" y2="522.03" stroke="#777" stroke-width="0.6" />
<line x1="95.9" y1="524.74" x2="97.4" y2="524.74" stroke="#777" stroke-width="0.6" />
<line x1="95.9" y1="527.45" x2="97.4" y2="527.45" stroke="#777" stroke-width="0.6" />
<line x1="94.9" y1="530.16" x2="97.4" y2="530.16" stroke="#444" stroke-width="0.9" />
<line x1="95.9" y1="532.87" x2="97.4" y2="532.87" stroke="#777" stroke-width="0.6" />
<line x1="95.9" y1="535.58" x2="97.4" y2="535.58" stroke="#777" stroke-width="0.6" />
<line x1="95.9" y1="538.29" x2="97.4" y2="538.29" stroke="#777" stroke-width="0.6" />
<line x1="94.9" y1="541" x2="97.4" y2="541" stroke="#444" stroke-width="0.9" />
<line x1="122" y1="512" x2="208.3" y2="512" stroke="#6a6a6a" stroke-width="1.4" />
<line x1="122" y1="507" x2="122" y2="517" stroke="#6a6a6a" stroke-width="1.4" />
<line x1="208.3" y1="507" x2="208.3" y2="517" stroke="#6a6a6a" stroke-width="1.4" />
<text x="170.6" y="520.9" font-size="7" text-anchor="middle" font-weight="normal" fill="#4a4a4a" textLength="7.6" lengthAdjust="spacingAndGlyphs">M1</text>
<text x="174.59" y="505.15" font-size="12.04" font-weight="bold" fill="#1a1a1a" stroke="#1a1a1a" stroke-width="0.3" stroke-linejoin="round">99%</text>
<text x="1.93" y="520.45" font-size="10.93" font-weight="bold" fill="#1e1e1e" stroke="#1e1e1e" stroke-width="0.3" stroke-linejoin="round">Anti-HER3 MAb</text>
<line x1="97.4" y1="412.6" x2="97.4" y2="414.6" stroke="#777" stroke-width="0.7" />
<line x1="125.18" y1="412.6" x2="125.18" y2="414.6" stroke="#777" stroke-width="0.7" />
<line x1="152.95" y1="412.6" x2="152.95" y2="414.6" stroke="#777" stroke-width="0.7" />
<line x1="180.72" y1="412.6" x2="180.72" y2="414.6" stroke="#777" stroke-width="0.7" />
<line x1="208.5" y1="412.6" x2="208.5" y2="414.6" stroke="#777" stroke-width="0.7" />
<line x1="97.4" y1="476" x2="97.4" y2="478" stroke="#777" stroke-width="0.7" />
<line x1="125.18" y1="476" x2="125.18" y2="478" stroke="#777" stroke-width="0.7" />
<line x1="152.95" y1="476" x2="152.95" y2="478" stroke="#777" stroke-width="0.7" />
<line x1="180.72" y1="476" x2="180.72" y2="478" stroke="#777" stroke-width="0.7" />
<line x1="208.5" y1="476" x2="208.5" y2="478" stroke="#777" stroke-width="0.7" />
<line x1="97.4" y1="541" x2="97.4" y2="543" stroke="#777" stroke-width="0.7" />
<line x1="125.18" y1="541" x2="125.18" y2="543" stroke="#777" stroke-width="0.7" />
<line x1="152.95" y1="541" x2="152.95" y2="543" stroke="#777" stroke-width="0.7" />
<line x1="180.72" y1="541" x2="180.72" y2="543" stroke="#777" stroke-width="0.7" />
<line x1="208.5" y1="541" x2="208.5" y2="543" stroke="#777" stroke-width="0.7" />
<text x="93.6" y="552.2" font-size="7" text-anchor="middle" font-weight="normal" fill="#666" >10</text>
<text x="102.8" y="548.6" font-size="6.2" text-anchor="middle" font-weight="normal" fill="#666" >0</text>
<text x="121.38" y="552.2" font-size="7" text-anchor="middle" font-weight="normal" fill="#666" >10</text>
<text x="130.58" y="548.6" font-size="6.2" text-anchor="middle" font-weight="normal" fill="#666" >1</text>
<text x="149.15" y="552.2" font-size="7" text-anchor="middle" font-weight="normal" fill="#666" >10</text>
<text x="158.35" y="548.6" font-size="6.2" text-anchor="middle" font-weight="normal" fill="#666" >2</text>
<text x="176.92" y="552.2" font-size="7" text-anchor="middle" font-weight="normal" fill="#666" >10</text>
<text x="186.12" y="548.6" font-size="6.2" text-anchor="middle" font-weight="normal" fill="#666" >3</text>
<text x="204.7" y="552.2" font-size="7" text-anchor="middle" font-weight="normal" fill="#666" >10</text>
<text x="213.9" y="548.6" font-size="6.2" text-anchor="middle" font-weight="normal" fill="#666" >4</text>
<rect x="351" y="317.8" width="116.2" height="57.7" fill="none" stroke="#d4d4d4" stroke-width="0.9"/>
<path d="M357.2,375.5 L357.2,375.34 L357.6,375.28 L358,375.19 L358.4,375.08 L358.8,374.94 L359.2,374.75 L359.6,374.51 L360,374.2 L360.4,373.81 L360.8,373.32 L361.2,372.72 L361.6,371.99 L362,371.11 L362.4,370.06 L362.8,368.83 L363.2,367.39 L363.6,365.74 L364,363.86 L364.4,361.75 L364.8,359.41 L365.2,356.86 L365.6,354.1 L366,351.16 L366.4,348.09 L366.8,344.91 L367.2,341.7 L367.6,338.5 L368,335.38 L368.4,332.42 L368.8,329.67 L369.2,327.2 L369.6,325.09 L370,323.38 L370.4,322.13 L370.8,321.36 L371.2,321.1 L371.6,321.39 L372,322.23 L372.4,323.62 L372.8,325.49 L373.2,327.8 L373.6,330.48 L374,333.46 L374.4,336.65 L374.8,339.97 L375.2,343.35 L375.6,346.71 L376,349.99 L376.4,353.14 L376.8,356.1 L377.2,358.84 L377.6,361.35 L378,363.6 L378.4,365.6 L378.8,367.35 L379.2,368.86 L379.6,370.15 L380,371.23 L380.4,372.13 L380.8,372.87 L381.2,373.47 L381.6,373.95 L382,374.32 L382.4,374.62 L382.8,374.85 L383.2,375.02 L383.6,375.15 L384,375.25 L384.4,375.32 L384.4,375.5 Z" fill="#9a9a9a" stroke="none" stroke-width="1" />
<path d="M366,375.31 L366.4,375.22 L366.8,375.09 L367.2,374.9 L367.6,374.64 L368,374.3 L368.4,373.83 L368.8,373.22 L369.2,372.43 L369.6,371.43 L370,370.17 L370.4,368.64 L370.8,366.79 L371.2,364.6 L371.6,362.06 L372,359.17 L372.4,355.95 L372.8,352.44 L373.2,348.69 L373.6,344.79 L374,340.83 L374.4,336.93 L374.8,333.22 L375.2,329.83 L375.6,326.89 L376,324.51 L376.4,322.8 L376.8,321.82 L377.2,321.61 L377.6,321.89 L378,322.54 L378.4,323.54 L378.8,324.88 L379.2,326.52 L379.6,328.44 L380,330.59 L380.4,332.94 L380.8,335.45 L381.2,338.08 L381.6,340.77 L382,343.49 L382.4,346.2 L382.8,348.87 L383.2,351.46 L383.6,353.95 L384,356.32 L384.4,358.54 L384.8,360.61 L385.2,362.52 L385.6,364.26 L386,365.84 L386.4,367.25 L386.8,368.5 L387.2,369.61 L387.6,370.57 L388,371.41 L388.4,372.13 L388.8,372.74 L389.2,373.25 L389.6,373.68 L390,374.04 L390.4,374.34 L390.8,374.58 L391.2,374.78 L391.6,374.94 L392,375.06 L392.4,375.16 L392.8,375.19 L393.2,375.21 L393.6,375.22 L394,375.24 L394.4,375.26 L394.8,375.27 L395.2,375.29 L395.6,375.3 L396,375.32 L396.4,375.33 L396.8,375.34 L397.2,375.35" fill="none" stroke="#555" stroke-width="0.8" />
<line x1="351" y1="317.3" x2="351" y2="375.5" stroke="#3a3a3a" stroke-width="0.95" />
<line x1="351" y1="375.5" x2="467.2" y2="375.5" stroke="#666" stroke-width="1.2" />
<line x1="349" y1="375.5" x2="351" y2="375.5" stroke="#888" stroke-width="0.7" />
<line x1="349" y1="364.42" x2="351" y2="364.42" stroke="#888" stroke-width="0.7" />
<line x1="349" y1="353.34" x2="351" y2="353.34" stroke="#888" stroke-width="0.7" />
<line x1="349" y1="342.26" x2="351" y2="342.26" stroke="#888" stroke-width="0.7" />
<line x1="349" y1="331.18" x2="351" y2="331.18" stroke="#888" stroke-width="0.7" />
<line x1="349" y1="320.1" x2="351" y2="320.1" stroke="#888" stroke-width="0.7" />
<text x="363.5" y="381" font-size="4.2" text-anchor="middle" font-weight="normal" fill="#888" >0</text>
<text x="376.5" y="381" font-size="4.2" text-anchor="middle" font-weight="normal" fill="#888" >10¹</text>
<text x="403" y="381" font-size="4.2" text-anchor="middle" font-weight="normal" fill="#888" >10²</text>
<text x="430.5" y="381" font-size="4.2" text-anchor="middle" font-weight="normal" fill="#888" >10³</text>
<text x="456" y="381" font-size="4.2" text-anchor="middle" font-weight="normal" fill="#888" >10⁴</text>
<text x="409" y="385" font-size="3.8" text-anchor="middle" font-weight="normal" fill="#999" >APC-A</text>
<text x="404.02" y="334.35" font-size="12.09" font-weight="bold" fill="#1a1a1a" stroke="#1a1a1a" stroke-width="0.3" stroke-linejoin="round">HRG 0 nM</text>
<text x="436.2" y="369.85" font-size="10.81" font-weight="bold" fill="#1a1a1a" stroke="#1a1a1a" stroke-width="0.3" stroke-linejoin="round">121.2</text>
<text x="346.5" y="376.9" font-size="4" text-anchor="end" font-weight="normal" fill="#6a6a6a" >0</text>
<text x="346.5" y="365.82" font-size="4" text-anchor="end" font-weight="normal" fill="#6a6a6a" >20</text>
<text x="346.5" y="354.74" font-size="4" text-anchor="end" font-weight="normal" fill="#6a6a6a" >40</text>
<text x="346.5" y="343.66" font-size="4" text-anchor="end" font-weight="normal" fill="#6a6a6a" >60</text>
<text x="346.5" y="332.58" font-size="4" text-anchor="end" font-weight="normal" fill="#6a6a6a" >80</text>
<text x="346.5" y="321.5" font-size="4" text-anchor="end" font-weight="normal" fill="#6a6a6a" >100</text>
<text transform="translate(334.2,346.05) rotate(-90)" font-size="3.8" text-anchor="middle" fill="#888">% Max</text>
<rect x="471.4" y="317.8" width="115.6" height="57.7" fill="none" stroke="#d4d4d4" stroke-width="0.9"/>
<path d="M478.4,375.5 L478.4,375.3 L478.8,375.21 L479.2,375.1 L479.6,374.94 L480,374.72 L480.4,374.44 L480.8,374.08 L481.2,373.6 L481.6,373.01 L482,372.25 L482.4,371.33 L482.8,370.2 L483.2,368.84 L483.6,367.23 L484,365.36 L484.4,363.2 L484.8,360.76 L485.2,358.04 L485.6,355.05 L486,351.83 L486.4,348.43 L486.8,344.9 L487.2,341.3 L487.6,337.73 L488,334.27 L488.4,331.02 L488.8,328.06 L489.2,325.5 L489.6,323.41 L490,321.87 L490.4,320.92 L490.8,320.6 L491.2,320.76 L491.6,321.25 L492,322.04 L492.4,323.14 L492.8,324.51 L493.2,326.15 L493.6,328.01 L494,330.07 L494.4,332.3 L494.8,334.66 L495.2,337.12 L495.6,339.65 L496,342.2 L496.4,344.76 L496.8,347.29 L497.2,349.76 L497.6,352.15 L498,354.45 L498.4,356.63 L498.8,358.69 L499.2,360.61 L499.6,362.39 L500,364.02 L500.4,365.51 L500.8,366.86 L501.2,368.07 L501.6,369.15 L502,370.1 L502.4,370.94 L502.8,371.67 L503.2,372.3 L503.6,372.85 L504,373.31 L504.4,373.7 L504.8,374.04 L505.2,374.31 L505.6,374.54 L506,374.73 L506.4,374.89 L506.8,375.02 L507.2,375.12 L507.6,375.2 L508,375.27 L508.4,375.32 L508.4,375.5 Z" fill="#9a9a9a" stroke="none" stroke-width="1" />
<path d="M482.8,375.31 L483.2,375.23 L483.6,375.11 L484,374.94 L484.4,374.72 L484.8,374.42 L485.2,374.02 L485.6,373.5 L486,372.84 L486.4,372 L486.8,370.95 L487.2,369.67 L487.6,368.12 L488,366.29 L488.4,364.15 L488.8,361.69 L489.2,358.92 L489.6,355.86 L490,352.52 L490.4,348.97 L490.8,345.27 L491.2,341.5 L491.6,337.75 L492,334.14 L492.4,330.77 L492.8,327.75 L493.2,325.19 L493.6,323.18 L494,321.79 L494.4,321.09 L494.8,321.03 L495.2,321.29 L495.6,321.8 L496,322.56 L496.4,323.56 L496.8,324.78 L497.2,326.21 L497.6,327.82 L498,329.6 L498.4,331.53 L498.8,333.57 L499.2,335.71 L499.6,337.91 L500,340.17 L500.4,342.44 L500.8,344.72 L501.2,346.98 L501.6,349.19 L502,351.35 L502.4,353.44 L502.8,355.44 L503.2,357.35 L503.6,359.15 L504,360.84 L504.4,362.42 L504.8,363.89 L505.2,365.24 L505.6,366.48 L506,367.6 L506.4,368.62 L506.8,369.53 L507.2,370.35 L507.6,371.08 L508,371.72 L508.4,372.29 L508.8,372.78 L509.2,373.21 L509.6,373.58 L510,373.89 L510.4,374.17 L510.8,374.4 L511.2,374.59 L511.6,374.76 L512,374.89 L512.4,375.01 L512.8,375.1 L513.2,375.18 L513.6,375.25 L514,375.3 L514.4,375.34" fill="none" stroke="#555" stroke-width="0.8" />
<line x1="471.4" y1="317.3" x2="471.4" y2="375.5" stroke="#3a3a3a" stroke-width="0.95" />
<line x1="471.4" y1="375.5" x2="587" y2="375.5" stroke="#666" stroke-width="1.2" />
<line x1="469.4" y1="375.5" x2="471.4" y2="375.5" stroke="#888" stroke-width="0.7" />
<line x1="469.4" y1="364.42" x2="471.4" y2="364.42" stroke="#888" stroke-width="0.7" />
<line x1="469.4" y1="353.34" x2="471.4" y2="353.34" stroke="#888" stroke-width="0.7" />
<line x1="469.4" y1="342.26" x2="471.4" y2="342.26" stroke="#888" stroke-width="0.7" />
<line x1="469.4" y1="331.18" x2="471.4" y2="331.18" stroke="#888" stroke-width="0.7" />
<line x1="469.4" y1="320.1" x2="471.4" y2="320.1" stroke="#888" stroke-width="0.7" />
<text x="483.9" y="381" font-size="4.2" text-anchor="middle" font-weight="normal" fill="#888" >0</text>
<text x="496.9" y="381" font-size="4.2" text-anchor="middle" font-weight="normal" fill="#888" >10¹</text>
<text x="523.4" y="381" font-size="4.2" text-anchor="middle" font-weight="normal" fill="#888" >10²</text>
<text x="550.9" y="381" font-size="4.2" text-anchor="middle" font-weight="normal" fill="#888" >10³</text>
<text x="576.4" y="381" font-size="4.2" text-anchor="middle" font-weight="normal" fill="#888" >10⁴</text>
<text x="529.4" y="385" font-size="3.8" text-anchor="middle" font-weight="normal" fill="#999" >APC-A</text>
<text x="518.72" y="334.25" font-size="12.17" font-weight="bold" fill="#1a1a1a" stroke="#1a1a1a" stroke-width="0.3" stroke-linejoin="round">HRG 10 nM</text>
<text x="560.04" y="369.85" font-size="10.48" font-weight="bold" fill="#1a1a1a" stroke="#1a1a1a" stroke-width="0.3" stroke-linejoin="round">95.7</text>
<rect x="591.2" y="317.8" width="115.8" height="57.7" fill="none" stroke="#d4d4d4" stroke-width="0.9"/>
<path d="M598.2,375.5 L598.2,375.32 L598.6,375.24 L599,375.14 L599.4,375.01 L599.8,374.84 L600.2,374.62 L600.6,374.33 L601,373.97 L601.4,373.51 L601.8,372.93 L602.2,372.23 L602.6,371.37 L603,370.34 L603.4,369.12 L603.8,367.69 L604.2,366.03 L604.6,364.14 L605,362 L605.4,359.62 L605.8,357 L606.2,354.17 L606.6,351.15 L607,347.97 L607.4,344.69 L607.8,341.37 L608.2,338.06 L608.6,334.84 L609,331.78 L609.4,328.97 L609.8,326.46 L610.2,324.33 L610.6,322.64 L611,321.43 L611.4,320.75 L611.8,320.61 L612.2,320.94 L612.6,321.69 L613,322.84 L613.4,324.38 L613.8,326.26 L614.2,328.45 L614.6,330.89 L615,333.54 L615.4,336.35 L615.8,339.25 L616.2,342.2 L616.6,345.15 L617,348.06 L617.4,350.89 L617.8,353.59 L618.2,356.16 L618.6,358.56 L619,360.77 L619.4,362.8 L619.8,364.64 L620.2,366.28 L620.6,367.73 L621,369.01 L621.4,370.12 L621.8,371.08 L622.2,371.89 L622.6,372.58 L623,373.15 L623.4,373.63 L623.8,374.02 L624.2,374.34 L624.6,374.6 L625,374.8 L625.4,374.97 L625.8,375.09 L626.2,375.19 L626.6,375.27 L627,375.33 L627,375.5 Z" fill="#9a9a9a" stroke="none" stroke-width="1" />
<path d="M599.4,375.32 L599.8,375.24 L600.2,375.15 L600.6,375.02 L601,374.85 L601.4,374.63 L601.8,374.34 L602.2,373.98 L602.6,373.52 L603,372.95 L603.4,372.25 L603.8,371.4 L604.2,370.38 L604.6,369.17 L605,367.75 L605.4,366.1 L605.8,364.22 L606.2,362.1 L606.6,359.73 L607,357.14 L607.4,354.32 L607.8,351.32 L608.2,348.17 L608.6,344.92 L609,341.62 L609.4,338.33 L609.8,335.14 L610.2,332.1 L610.6,329.3 L611,326.81 L611.4,324.7 L611.8,323.02 L612.2,321.83 L612.6,321.15 L613,321.01 L613.4,321.28 L613.8,321.91 L614.2,322.88 L614.6,324.18 L615,325.78 L615.4,327.65 L615.8,329.76 L616.2,332.06 L616.6,334.52 L617,337.1 L617.4,339.75 L617.8,342.44 L618.2,345.14 L618.6,347.8 L619,350.39 L619.4,352.89 L619.8,355.28 L620.2,357.53 L620.6,359.64 L621,361.6 L621.4,363.39 L621.8,365.03 L622.2,366.5 L622.6,367.82 L623,368.99 L623.4,370.01 L623.8,370.91 L624.2,371.68 L624.6,372.35 L625,372.92 L625.4,373.39 L625.8,373.8 L626.2,374.13 L626.6,374.41 L627,374.63 L627.4,374.82 L627.8,374.96 L628.2,375.08 L628.6,375.18 L629,375.25 L629.4,375.31" fill="none" stroke="#555" stroke-width="0.8" />
<line x1="591.2" y1="317.3" x2="591.2" y2="375.5" stroke="#3a3a3a" stroke-width="0.95" />
<line x1="591.2" y1="375.5" x2="707" y2="375.5" stroke="#666" stroke-width="1.2" />
<line x1="589.2" y1="375.5" x2="591.2" y2="375.5" stroke="#888" stroke-width="0.7" />
<line x1="589.2" y1="364.42" x2="591.2" y2="364.42" stroke="#888" stroke-width="0.7" />
<line x1="589.2" y1="353.34" x2="591.2" y2="353.34" stroke="#888" stroke-width="0.7" />
<line x1="589.2" y1="342.26" x2="591.2" y2="342.26" stroke="#888" stroke-width="0.7" />
<line x1="589.2" y1="331.18" x2="591.2" y2="331.18" stroke="#888" stroke-width="0.7" />
<line x1="589.2" y1="320.1" x2="591.2" y2="320.1" stroke="#888" stroke-width="0.7" />
<text x="603.7" y="381" font-size="4.2" text-anchor="middle" font-weight="normal" fill="#888" >0</text>
<text x="616.7" y="381" font-size="4.2" text-anchor="middle" font-weight="normal" fill="#888" >10¹</text>
<text x="643.2" y="381" font-size="4.2" text-anchor="middle" font-weight="normal" fill="#888" >10²</text>
<text x="670.7" y="381" font-size="4.2" text-anchor="middle" font-weight="normal" fill="#888" >10³</text>
<text x="696.2" y="381" font-size="4.2" text-anchor="middle" font-weight="normal" fill="#888" >10⁴</text>
<text x="649.2" y="385" font-size="3.8" text-anchor="middle" font-weight="normal" fill="#999" >APC-A</text>
<text x="632.12" y="334.35" font-size="12.19" font-weight="bold" fill="#1a1a1a" stroke="#1a1a1a" stroke-width="0.3" stroke-linejoin="round">HRG 100 nM</text>
<text x="679.12" y="369.85" font-size="10.69" font-weight="bold" fill="#1a1a1a" stroke="#1a1a1a" stroke-width="0.3" stroke-linejoin="round">77.8</text>
<rect x="351" y="392.9" width="116.2" height="56.8" fill="none" stroke="#d4d4d4" stroke-width="0.9"/>
<path d="M358,449.7 L358,449.49 L358.4,449.39 L358.8,449.24 L359.2,449.04 L359.6,448.76 L360,448.39 L360.4,447.89 L360.8,447.23 L361.2,446.39 L361.6,445.32 L362,444 L362.4,442.38 L362.8,440.44 L363.2,438.15 L363.6,435.52 L364,432.53 L364.4,429.22 L364.8,425.63 L365.2,421.82 L365.6,417.88 L366,413.91 L366.4,410.04 L366.8,406.38 L367.2,403.08 L367.6,400.26 L368,398.03 L368.4,396.49 L368.8,395.7 L369.2,395.68 L369.6,396.31 L370,397.54 L370.4,399.34 L370.8,401.64 L371.2,404.37 L371.6,407.44 L372,410.76 L372.4,414.23 L372.8,417.77 L373.2,421.29 L373.6,424.72 L374,427.99 L374.4,431.05 L374.8,433.87 L375.2,436.41 L375.6,438.68 L376,440.66 L376.4,442.38 L376.8,443.84 L377.2,445.06 L377.6,446.07 L378,446.89 L378.4,447.55 L378.8,448.08 L379.2,448.49 L379.6,448.81 L380,449.05 L380.4,449.15 L380.8,449.19 L381.2,449.23 L381.6,449.26 L382,449.3 L382.4,449.33 L382.8,449.36 L383.2,449.38 L383.6,449.41 L384,449.43 L384.4,449.45 L384.8,449.47 L385.2,449.49 L385.6,449.5 L386,449.52 L386.4,449.53 L386.8,449.55 L386.8,449.7 Z" fill="#b3b3b3" stroke="none" stroke-width="1" />
<path d="M358.4,449.54 L358.8,449.5 L359.2,449.44 L359.6,449.37 L360,449.28 L360.4,449.17 L360.8,449.04 L361.2,448.87 L361.6,448.68 L362,448.44 L362.4,448.15 L362.8,447.81 L363.2,447.41 L363.6,446.94 L364,446.4 L364.4,445.77 L364.8,445.04 L365.2,444.21 L365.6,443.27 L366,442.21 L366.4,441.03 L366.8,439.71 L367.2,438.27 L367.6,436.69 L368,434.97 L368.4,433.12 L368.8,431.15 L369.2,429.06 L369.6,426.86 L370,424.57 L370.4,422.22 L370.8,419.81 L371.2,417.37 L371.6,414.94 L372,412.53 L372.4,410.18 L372.8,407.93 L373.2,405.79 L373.6,403.81 L374,402.01 L374.4,400.42 L374.8,399.07 L375.2,397.98 L375.6,397.16 L376,396.64 L376.4,396.41 L376.8,396.4 L377.2,396.4 L377.6,396.4 L378,396.49 L378.4,396.88 L378.8,397.58 L379.2,398.57 L379.6,399.84 L380,401.37 L380.4,403.12 L380.8,405.08 L381.2,407.2 L381.6,409.47 L382,411.83 L382.4,414.27 L382.8,416.75 L383.2,419.23 L383.6,421.7 L384,424.11 L384.4,426.46 L384.8,428.72 L385.2,430.86 L385.6,432.89 L386,434.79 L386.4,436.55 L386.8,438.17 L387.2,439.65 L387.6,441 L388,442.21 L388.4,443.28 L388.8,444.24 L389.2,445.08 L389.6,445.81 L390,446.45 L390.4,447 L390.8,447.47 L391.2,447.87 L391.6,448.2 L392,448.49 L392.4,448.72 L392.8,448.91 L393.2,449.07 L393.6,449.2 L394,449.31 L394.4,449.39 L394.8,449.45 L395.2,449.47 L395.6,449.48 L396,449.5 L396.4,449.51 L396.8,449.52 L397.2,449.53 L397.6,449.55" fill="none" stroke="#555" stroke-width="0.8" />
<line x1="351" y1="392.4" x2="351" y2="449.7" stroke="#3a3a3a" stroke-width="0.95" />
<line x1="351" y1="449.7" x2="467.2" y2="449.7" stroke="#666" stroke-width="1.2" />
<line x1="349" y1="449.7" x2="351" y2="449.7" stroke="#888" stroke-width="0.7" />
<line x1="349" y1="438.8" x2="351" y2="438.8" stroke="#888" stroke-width="0.7" />
<line x1="349" y1="427.9" x2="351" y2="427.9" stroke="#888" stroke-width="0.7" />
<line x1="349" y1="417" x2="351" y2="417" stroke="#888" stroke-width="0.7" />
<line x1="349" y1="406.1" x2="351" y2="406.1" stroke="#888" stroke-width="0.7" />
<line x1="349" y1="395.2" x2="351" y2="395.2" stroke="#888" stroke-width="0.7" />
<text x="363.5" y="455.2" font-size="4.2" text-anchor="middle" font-weight="normal" fill="#888" >0</text>
<text x="376.5" y="455.2" font-size="4.2" text-anchor="middle" font-weight="normal" fill="#888" >10¹</text>
<text x="403" y="455.2" font-size="4.2" text-anchor="middle" font-weight="normal" fill="#888" >10²</text>
<text x="430.5" y="455.2" font-size="4.2" text-anchor="middle" font-weight="normal" fill="#888" >10³</text>
<text x="456" y="455.2" font-size="4.2" text-anchor="middle" font-weight="normal" fill="#888" >10⁴</text>
<text x="409" y="459.2" font-size="3.8" text-anchor="middle" font-weight="normal" fill="#999" >APC-A: Hrblag</text>
<text x="425.23" y="411.55" font-size="12.06" font-weight="bold" fill="#1a1a1a" stroke="#1a1a1a" stroke-width="0.3" stroke-linejoin="round">no VIA</text>
<text x="437.09" y="445.05" font-size="10.97" font-weight="bold" fill="#1a1a1a" stroke="#1a1a1a" stroke-width="0.3" stroke-linejoin="round">123.2</text>
<text x="346.5" y="451.1" font-size="4" text-anchor="end" font-weight="normal" fill="#6a6a6a" >0</text>
<text x="346.5" y="440.2" font-size="4" text-anchor="end" font-weight="normal" fill="#6a6a6a" >20</text>
<text x="346.5" y="429.3" font-size="4" text-anchor="end" font-weight="normal" fill="#6a6a6a" >40</text>
<text x="346.5" y="418.4" font-size="4" text-anchor="end" font-weight="normal" fill="#6a6a6a" >60</text>
<text x="346.5" y="407.5" font-size="4" text-anchor="end" font-weight="normal" fill="#6a6a6a" >80</text>
<text x="346.5" y="396.6" font-size="4" text-anchor="end" font-weight="normal" fill="#6a6a6a" >100</text>
<text transform="translate(334.2,420.7) rotate(-90)" font-size="3.8" text-anchor="middle" fill="#888">% Max</text>
<rect x="471.4" y="392.9" width="115.6" height="56.8" fill="none" stroke="#d4d4d4" stroke-width="0.9"/>
<path d="M478.8,449.7 L478.8,449.53 L479.2,449.42 L479.6,449.27 L480,449.03 L480.4,448.69 L480.8,448.2 L481.2,447.53 L481.6,446.61 L482,445.4 L482.4,443.82 L482.8,441.84 L483.2,439.4 L483.6,436.48 L484,433.06 L484.4,429.19 L484.8,424.93 L485.2,420.39 L485.6,415.72 L486,411.09 L486.4,406.73 L486.8,402.83 L487.2,399.62 L487.6,397.26 L488,395.91 L488.4,395.63 L488.8,396.46 L489.2,398.32 L489.6,401.13 L490,404.71 L490.4,408.86 L490.8,413.38 L491.2,418.06 L491.6,422.69 L492,427.1 L492.4,431.18 L492.8,434.83 L493.2,438 L493.6,440.68 L494,442.89 L494.4,444.66 L494.8,446.04 L495.2,446.62 L495.6,446.82 L496,447 L496.4,447.18 L496.8,447.34 L497.2,447.49 L497.6,447.63 L498,447.77 L498.4,447.89 L498.8,448.01 L499.2,448.12 L499.6,448.22 L500,448.31 L500.4,448.4 L500.8,448.49 L501.2,448.57 L501.6,448.64 L502,448.71 L502.4,448.77 L502.8,448.83 L503.2,448.89 L503.6,448.94 L504,448.99 L504.4,449.03 L504.8,449.08 L505.2,449.12 L505.6,449.16 L506,449.19 L506.4,449.22 L506.8,449.25 L507.2,449.28 L507.6,449.31 L508,449.33 L508.4,449.36 L508.8,449.38 L509.2,449.4 L509.6,449.42 L510,449.44 L510.4,449.46 L510.8,449.47 L511.2,449.49 L511.6,449.5 L512,449.51 L512.4,449.52 L512.8,449.54 L513.2,449.55 L513.2,449.7 Z" fill="#b3b3b3" stroke="none" stroke-width="1" />
<path d="M478.8,449.52 L479.2,449.46 L479.6,449.38 L480,449.28 L480.4,449.15 L480.8,448.98 L481.2,448.78 L481.6,448.52 L482,448.21 L482.4,447.82 L482.8,447.36 L483.2,446.8 L483.6,446.14 L484,445.35 L484.4,444.44 L484.8,443.38 L485.2,442.17 L485.6,440.79 L486,439.23 L486.4,437.5 L486.8,435.59 L487.2,433.5 L487.6,431.25 L488,428.83 L488.4,426.28 L488.8,423.62 L489.2,420.87 L489.6,418.07 L490,415.27 L490.4,412.49 L490.8,409.8 L491.2,407.23 L491.6,404.83 L492,402.66 L492.4,400.76 L492.8,399.16 L493.2,397.9 L493.6,397.01 L494,396.51 L494.4,396.4 L494.8,396.4 L495.2,396.4 L495.6,396.4 L496,396.4 L496.4,396.4 L496.8,396.4 L497.2,396.52 L497.6,396.87 L498,397.46 L498.4,398.26 L498.8,399.28 L499.2,400.5 L499.6,401.9 L500,403.47 L500.4,405.18 L500.8,407.02 L501.2,408.97 L501.6,411 L502,413.09 L502.4,415.22 L502.8,417.37 L503.2,419.52 L503.6,421.66 L504,423.76 L504.4,425.8 L504.8,427.79 L505.2,429.7 L505.6,431.52 L506,433.25 L506.4,434.88 L506.8,436.41 L507.2,437.83 L507.6,439.15 L508,440.37 L508.4,441.48 L508.8,442.49 L509.2,443.4 L509.6,444.22 L510,444.96 L510.4,445.62 L510.8,446.2 L511.2,446.71 L511.6,447.16 L512,447.55 L512.4,447.89 L512.8,448.18 L513.2,448.43 L513.6,448.64 L514,448.82 L514.4,448.98 L514.8,449.11 L515.2,449.22 L515.6,449.31 L516,449.38 L516.4,449.44 L516.8,449.49 L517.2,449.54" fill="none" stroke="#555" stroke-width="0.8" />
<line x1="471.4" y1="392.4" x2="471.4" y2="449.7" stroke="#3a3a3a" stroke-width="0.95" />
<line x1="471.4" y1="449.7" x2="587" y2="449.7" stroke="#666" stroke-width="1.2" />
<line x1="469.4" y1="449.7" x2="471.4" y2="449.7" stroke="#888" stroke-width="0.7" />
<line x1="469.4" y1="438.8" x2="471.4" y2="438.8" stroke="#888" stroke-width="0.7" />
<line x1="469.4" y1="427.9" x2="471.4" y2="427.9" stroke="#888" stroke-width="0.7" />
<line x1="469.4" y1="417" x2="471.4" y2="417" stroke="#888" stroke-width="0.7" />
<line x1="469.4" y1="406.1" x2="471.4" y2="406.1" stroke="#888" stroke-width="0.7" />
<line x1="469.4" y1="395.2" x2="471.4" y2="395.2" stroke="#888" stroke-width="0.7" />
<text x="483.9" y="455.2" font-size="4.2" text-anchor="middle" font-weight="normal" fill="#888" >0</text>
<text x="496.9" y="455.2" font-size="4.2" text-anchor="middle" font-weight="normal" fill="#888" >10¹</text>
<text x="523.4" y="455.2" font-size="4.2" text-anchor="middle" font-weight="normal" fill="#888" >10²</text>
<text x="550.9" y="455.2" font-size="4.2" text-anchor="middle" font-weight="normal" fill="#888" >10³</text>
<text x="576.4" y="455.2" font-size="4.2" text-anchor="middle" font-weight="normal" fill="#888" >10⁴</text>
<text x="529.4" y="459.2" font-size="3.8" text-anchor="middle" font-weight="normal" fill="#999" >APC-A: Hrblag</text>
<text x="532.37" y="410.55" font-size="11.99" font-weight="bold" fill="#1a1a1a" stroke="#1a1a1a" stroke-width="0.3" stroke-linejoin="round">GFP-VIA</text>
<text x="553.9" y="444.45" font-size="10.89" font-weight="bold" fill="#1a1a1a" stroke="#1a1a1a" stroke-width="0.3" stroke-linejoin="round">125.3</text>
<rect x="591.2" y="392.9" width="115.8" height="56.8" fill="none" stroke="#d4d4d4" stroke-width="0.9"/>
<path d="M599,449.7 L599,449.49 L599.4,449.36 L599.8,449.16 L600.2,448.87 L600.6,448.44 L601,447.82 L601.4,446.97 L601.8,445.83 L602.2,444.32 L602.6,442.38 L603,439.96 L603.4,437.03 L603.8,433.57 L604.2,429.61 L604.6,425.22 L605,420.52 L605.4,415.67 L605.8,410.88 L606.2,406.38 L606.6,402.41 L607,399.19 L607.4,396.92 L607.8,395.75 L608.2,395.76 L608.6,397.02 L609,399.46 L609.4,402.9 L609.8,407.13 L610.2,411.88 L610.6,416.89 L611,421.9 L611.4,426.69 L611.8,431.11 L612.2,435.03 L612.6,438.39 L613,441.19 L613.4,443.44 L613.8,445.21 L614.2,446.24 L614.6,446.46 L615,446.67 L615.4,446.86 L615.8,447.05 L616.2,447.22 L616.6,447.38 L617,447.53 L617.4,447.67 L617.8,447.8 L618.2,447.92 L618.6,448.04 L619,448.14 L619.4,448.24 L619.8,448.34 L620.2,448.43 L620.6,448.51 L621,448.58 L621.4,448.66 L621.8,448.72 L622.2,448.79 L622.6,448.85 L623,448.9 L623.4,448.95 L623.8,449 L624.2,449.05 L624.6,449.09 L625,449.13 L625.4,449.16 L625.8,449.2 L626.2,449.23 L626.6,449.26 L627,449.29 L627.4,449.32 L627.8,449.34 L628.2,449.36 L628.6,449.39 L629,449.41 L629.4,449.42 L629.8,449.44 L630.2,449.46 L630.6,449.47 L631,449.49 L631.4,449.5 L631.8,449.52 L632.2,449.53 L632.6,449.54 L633,449.55 L633,449.7 Z" fill="#b3b3b3" stroke="none" stroke-width="1" />
<path d="M600.6,449.5 L601,449.42 L601.4,449.3 L601.8,449.15 L602.2,448.95 L602.6,448.68 L603,448.34 L603.4,447.9 L603.8,447.35 L604.2,446.66 L604.6,445.81 L605,444.78 L605.4,443.54 L605.8,442.07 L606.2,440.36 L606.6,438.39 L607,436.16 L607.4,433.67 L607.8,430.93 L608.2,427.96 L608.6,424.8 L609,421.5 L609.4,418.1 L609.8,414.69 L610.2,411.34 L610.6,408.14 L611,405.15 L611.4,402.49 L611.8,400.21 L612.2,398.4 L612.6,397.1 L613,396.37 L613.4,396.21 L613.8,396.36 L614.2,396.73 L614.6,397.29 L615,398.05 L615.4,399 L615.8,400.13 L616.2,401.42 L616.6,402.86 L617,404.43 L617.4,406.13 L617.8,407.92 L618.2,409.79 L618.6,411.73 L619,413.72 L619.4,415.73 L619.8,417.76 L620.2,419.78 L620.6,421.78 L621,423.76 L621.4,425.68 L621.8,427.55 L622.2,429.36 L622.6,431.09 L623,432.74 L623.4,434.3 L623.8,435.77 L624.2,437.15 L624.6,438.44 L625,439.64 L625.4,440.74 L625.8,441.76 L626.2,442.68 L626.6,443.53 L627,444.29 L627.4,444.98 L627.8,445.59 L628.2,446.14 L628.6,446.63 L629,447.06 L629.4,447.44 L629.8,447.77 L630.2,448.06 L630.6,448.31 L631,448.53 L631.4,448.72 L631.8,448.88 L632.2,449.02 L632.6,449.13 L633,449.23 L633.4,449.31 L633.8,449.38 L634.2,449.44 L634.6,449.49 L635,449.53" fill="none" stroke="#555" stroke-width="0.8" />
<line x1="591.2" y1="392.4" x2="591.2" y2="449.7" stroke="#3a3a3a" stroke-width="0.95" />
<line x1="591.2" y1="449.7" x2="707" y2="449.7" stroke="#666" stroke-width="1.2" />
<line x1="589.2" y1="449.7" x2="591.2" y2="449.7" stroke="#888" stroke-width="0.7" />
<line x1="589.2" y1="438.8" x2="591.2" y2="438.8" stroke="#888" stroke-width="0.7" />
<line x1="589.2" y1="427.9" x2="591.2" y2="427.9" stroke="#888" stroke-width="0.7" />
<line x1="589.2" y1="417" x2="591.2" y2="417" stroke="#888" stroke-width="0.7" />
<line x1="589.2" y1="406.1" x2="591.2" y2="406.1" stroke="#888" stroke-width="0.7" />
<line x1="589.2" y1="395.2" x2="591.2" y2="395.2" stroke="#888" stroke-width="0.7" />
<text x="603.7" y="455.2" font-size="4.2" text-anchor="middle" font-weight="normal" fill="#888" >0</text>
<text x="616.7" y="455.2" font-size="4.2" text-anchor="middle" font-weight="normal" fill="#888" >10¹</text>
<text x="643.2" y="455.2" font-size="4.2" text-anchor="middle" font-weight="normal" fill="#888" >10²</text>
<text x="670.7" y="455.2" font-size="4.2" text-anchor="middle" font-weight="normal" fill="#888" >10³</text>
<text x="696.2" y="455.2" font-size="4.2" text-anchor="middle" font-weight="normal" fill="#888" >10⁴</text>
<text x="649.2" y="459.2" font-size="3.8" text-anchor="middle" font-weight="normal" fill="#999" >APC-A: Hrblag</text>
<text x="645.83" y="411.35" font-size="11.97" font-weight="bold" fill="#1a1a1a" stroke="#1a1a1a" stroke-width="0.3" stroke-linejoin="round">HER3-VIA</text>
<text x="674.74" y="444.95" font-size="10.25" font-weight="bold" fill="#1a1a1a" stroke="#1a1a1a" stroke-width="0.3" stroke-linejoin="round">118.1</text>
<rect x="351" y="467.9" width="116.2" height="56.3" fill="none" stroke="#d4d4d4" stroke-width="0.9"/>
<path d="M360.4,524.2 L360.4,523.98 L360.8,523.88 L361.2,523.73 L361.6,523.53 L362,523.26 L362.4,522.89 L362.8,522.4 L363.2,521.77 L363.6,520.96 L364,519.94 L364.4,518.68 L364.8,517.15 L365.2,515.31 L365.6,513.14 L366,510.63 L366.4,507.79 L366.8,504.62 L367.2,501.17 L367.6,497.47 L368,493.61 L368.4,489.67 L368.8,485.76 L369.2,482 L369.6,478.5 L370,475.4 L370.4,472.8 L370.8,470.8 L371.2,469.49 L371.6,468.92 L372,469.09 L372.4,469.94 L372.8,471.42 L373.2,473.5 L373.6,476.09 L374,479.11 L374.4,482.46 L374.8,486.03 L375.2,489.73 L375.6,493.45 L376,497.1 L376.4,500.62 L376.8,503.93 L377.2,506.99 L377.6,509.76 L378,512.24 L378.4,514.41 L378.8,516.29 L379.2,517.89 L379.6,519.22 L380,520.32 L380.4,521.22 L380.8,521.93 L381.2,522.5 L381.6,522.94 L382,523.28 L382.4,523.53 L382.8,523.72 L383.2,523.86 L383.6,523.94 L384,523.96 L384.4,523.98 L384.8,524 L385.2,524.01 L385.6,524.03 L386,524.04 L386,524.2 Z" fill="#b3b3b3" stroke="none" stroke-width="1" />
<path d="M361.6,524.03 L362,523.97 L362.4,523.89 L362.8,523.78 L363.2,523.63 L363.6,523.45 L364,523.21 L364.4,522.91 L364.8,522.53 L365.2,522.06 L365.6,521.49 L366,520.79 L366.4,519.95 L366.8,518.95 L367.2,517.78 L367.6,516.41 L368,514.84 L368.4,513.05 L368.8,511.05 L369.2,508.82 L369.6,506.38 L370,503.73 L370.4,500.91 L370.8,497.93 L371.2,494.85 L371.6,491.69 L372,488.53 L372.4,485.41 L372.8,482.39 L373.2,479.55 L373.6,476.94 L374,474.64 L374.4,472.69 L374.8,471.15 L375.2,470.06 L375.6,469.44 L376,469.3 L376.4,469.3 L376.8,469.3 L377.2,469.3 L377.6,469.3 L378,469.3 L378.4,469.3 L378.8,469.46 L379.2,469.95 L379.6,470.74 L380,471.84 L380.4,473.21 L380.8,474.85 L381.2,476.71 L381.6,478.77 L382,481 L382.4,483.36 L382.8,485.82 L383.2,488.35 L383.6,490.9 L384,493.46 L384.4,495.99 L384.8,498.46 L385.2,500.85 L385.6,503.15 L386,505.33 L386.4,507.39 L386.8,509.31 L387.2,511.09 L387.6,512.72 L388,514.21 L388.4,515.56 L388.8,516.77 L389.2,517.85 L389.6,518.8 L390,519.64 L390.4,520.37 L390.8,521 L391.2,521.55 L391.6,522.01 L392,522.4 L392.4,522.74 L392.8,523.01 L393.2,523.24 L393.6,523.43 L394,523.59 L394.4,523.72 L394.8,523.82 L395.2,523.9 L395.6,523.97 L396,524.02" fill="none" stroke="#555" stroke-width="0.8" />
<line x1="351" y1="467.4" x2="351" y2="524.2" stroke="#3a3a3a" stroke-width="0.95" />
<line x1="351" y1="524.2" x2="467.2" y2="524.2" stroke="#666" stroke-width="1.2" />
<line x1="349" y1="524.2" x2="351" y2="524.2" stroke="#888" stroke-width="0.7" />
<line x1="349" y1="513.4" x2="351" y2="513.4" stroke="#888" stroke-width="0.7" />
<line x1="349" y1="502.6" x2="351" y2="502.6" stroke="#888" stroke-width="0.7" />
<line x1="349" y1="491.8" x2="351" y2="491.8" stroke="#888" stroke-width="0.7" />
<line x1="349" y1="481" x2="351" y2="481" stroke="#888" stroke-width="0.7" />
<line x1="349" y1="470.2" x2="351" y2="470.2" stroke="#888" stroke-width="0.7" />
<text x="363.5" y="529.7" font-size="4.2" text-anchor="middle" font-weight="normal" fill="#888" >0</text>
<text x="376.5" y="529.7" font-size="4.2" text-anchor="middle" font-weight="normal" fill="#888" >10¹</text>
<text x="403" y="529.7" font-size="4.2" text-anchor="middle" font-weight="normal" fill="#888" >10²</text>
<text x="430.5" y="529.7" font-size="4.2" text-anchor="middle" font-weight="normal" fill="#888" >10³</text>
<text x="456" y="529.7" font-size="4.2" text-anchor="middle" font-weight="normal" fill="#888" >10⁴</text>
<text x="409" y="533.7" font-size="3.8" text-anchor="middle" font-weight="normal" fill="#999" >APC-A: Hrblag</text>
<text x="423.23" y="485.55" font-size="12.06" font-weight="bold" fill="#1a1a1a" stroke="#1a1a1a" stroke-width="0.3" stroke-linejoin="round">no VIA</text>
<text x="437.1" y="519.05" font-size="10.79" font-weight="bold" fill="#1a1a1a" stroke="#1a1a1a" stroke-width="0.3" stroke-linejoin="round">123.4</text>
<text x="346.5" y="525.6" font-size="4" text-anchor="end" font-weight="normal" fill="#6a6a6a" >0</text>
<text x="346.5" y="514.8" font-size="4" text-anchor="end" font-weight="normal" fill="#6a6a6a" >20</text>
<text x="346.5" y="504" font-size="4" text-anchor="end" font-weight="normal" fill="#6a6a6a" >40</text>
<text x="346.5" y="493.2" font-size="4" text-anchor="end" font-weight="normal" fill="#6a6a6a" >60</text>
<text x="346.5" y="482.4" font-size="4" text-anchor="end" font-weight="normal" fill="#6a6a6a" >80</text>
<text x="346.5" y="471.6" font-size="4" text-anchor="end" font-weight="normal" fill="#6a6a6a" >100</text>
<text transform="translate(334.2,495.45) rotate(-90)" font-size="3.8" text-anchor="middle" fill="#888">% Max</text>
<rect x="471.4" y="467.9" width="115" height="56.3" fill="none" stroke="#d4d4d4" stroke-width="0.9"/>
<path d="M480.8,524.2 L480.8,524.01 L481.2,523.89 L481.6,523.72 L482,523.46 L482.4,523.08 L482.8,522.55 L483.2,521.82 L483.6,520.83 L484,519.53 L484.4,517.86 L484.8,515.76 L485.2,513.2 L485.6,510.14 L486,506.6 L486.4,502.62 L486.8,498.27 L487.2,493.67 L487.6,488.98 L488,484.39 L488.4,480.12 L488.8,476.37 L489.2,473.35 L489.6,471.23 L490,470.14 L490.4,470 L490.8,470 L491.2,470 L491.6,470 L492,470 L492.4,470 L492.8,470 L493.2,470 L493.6,470 L494,470 L494.4,470 L494.8,470.59 L495.2,472.33 L495.6,475.1 L496,478.73 L496.4,483 L496.8,487.69 L497.2,492.54 L497.6,497.35 L498,501.92 L498.4,506.11 L498.8,509.83 L499.2,513.04 L499.6,515.72 L500,517.89 L500.4,519.61 L500.8,520.93 L501.2,521.93 L501.6,522.65 L502,523.17 L502.4,523.53 L502.8,523.69 L503.2,523.73 L503.6,523.77 L504,523.8 L504.4,523.83 L504.8,523.86 L505.2,523.89 L505.6,523.91 L506,523.93 L506.4,523.95 L506.8,523.97 L507.2,523.99 L507.6,524.01 L508,524.02 L508.4,524.04 L508.8,524.05 L508.8,524.2 Z" fill="#b3b3b3" stroke="none" stroke-width="1" />
<path d="M483.6,524 L484,523.89 L484.4,523.72 L484.8,523.47 L485.2,523.12 L485.6,522.62 L486,521.94 L486.4,521.04 L486.8,519.85 L487.2,518.33 L487.6,516.43 L488,514.11 L488.4,511.34 L488.8,508.12 L489.2,504.47 L489.6,500.45 L490,496.15 L490.4,491.69 L490.8,487.24 L491.2,482.96 L491.6,479.06 L492,475.72 L492.4,473.12 L492.8,471.39 L493.2,470.63 L493.6,470.69 L494,471.08 L494.4,471.79 L494.8,472.78 L495.2,474.06 L495.6,475.59 L496,477.36 L496.4,479.33 L496.8,481.46 L497.2,483.74 L497.6,486.12 L498,488.57 L498.4,491.06 L498.8,493.56 L499.2,496.04 L499.6,498.47 L500,500.83 L500.4,503.1 L500.8,505.26 L501.2,507.3 L501.6,509.21 L502,510.98 L502.4,512.61 L502.8,514.1 L503.2,515.45 L503.6,516.66 L504,517.75 L504.4,518.71 L504.8,519.55 L505.2,520.29 L505.6,520.93 L506,521.48 L506.4,521.96 L506.8,522.36 L507.2,522.69 L507.6,522.98 L508,523.21 L508.4,523.41 L508.8,523.57 L509.2,523.7 L509.6,523.81 L510,523.89 L510.4,523.96 L510.8,524.01" fill="none" stroke="#555" stroke-width="0.8" />
<line x1="471.4" y1="467.4" x2="471.4" y2="524.2" stroke="#3a3a3a" stroke-width="0.95" />
<line x1="471.4" y1="524.2" x2="586.4" y2="524.2" stroke="#666" stroke-width="1.2" />
<line x1="469.4" y1="524.2" x2="471.4" y2="524.2" stroke="#888" stroke-width="0.7" />
<line x1="469.4" y1="513.4" x2="471.4" y2="513.4" stroke="#888" stroke-width="0.7" />
<line x1="469.4" y1="502.6" x2="471.4" y2="502.6" stroke="#888" stroke-width="0.7" />
<line x1="469.4" y1="491.8" x2="471.4" y2="491.8" stroke="#888" stroke-width="0.7" />
<line x1="469.4" y1="481" x2="471.4" y2="481" stroke="#888" stroke-width="0.7" />
<line x1="469.4" y1="470.2" x2="471.4" y2="470.2" stroke="#888" stroke-width="0.7" />
<text x="483.9" y="529.7" font-size="4.2" text-anchor="middle" font-weight="normal" fill="#888" >0</text>
<text x="496.9" y="529.7" font-size="4.2" text-anchor="middle" font-weight="normal" fill="#888" >10¹</text>
<text x="523.4" y="529.7" font-size="4.2" text-anchor="middle" font-weight="normal" fill="#888" >10²</text>
<text x="550.9" y="529.7" font-size="4.2" text-anchor="middle" font-weight="normal" fill="#888" >10³</text>
<text x="576.4" y="529.7" font-size="4.2" text-anchor="middle" font-weight="normal" fill="#888" >10⁴</text>
<text x="529.4" y="533.7" font-size="3.8" text-anchor="middle" font-weight="normal" fill="#999" >APC-A: Hrblag</text>
<text x="527.13" y="485.15" font-size="12.08" font-weight="bold" fill="#1a1a1a" stroke="#1a1a1a" stroke-width="0.3" stroke-linejoin="round">HER3-VIA</text>
<text x="559.12" y="518.65" font-size="10.85" font-weight="bold" fill="#1a1a1a" stroke="#1a1a1a" stroke-width="0.3" stroke-linejoin="round">85.5</text>
<text x="281.52" y="339.15" font-size="12.12" font-weight="bold" fill="#1e1e1e" stroke="#1e1e1e" stroke-width="0.3" stroke-linejoin="round">HRG</text>
<path d="M312.9,334.4 L321.1,334.4" fill="none" stroke="#1e1e1e" stroke-width="1.8"/>
<path d="M316.9,330.5 L321.3,334.4 L316.9,338.3" fill="none" stroke="#1e1e1e" stroke-width="1.6" stroke-linejoin="miter" stroke-miterlimit="10"/>
<text x="281.53" y="353.55" font-size="11.94" font-weight="bold" fill="#1e1e1e" stroke="#1e1e1e" stroke-width="0.3" stroke-linejoin="round">HRG-his</text>
<text x="281.71" y="368.35" font-size="11.81" font-weight="bold" fill="#1e1e1e" stroke="#1e1e1e" stroke-width="0.3" stroke-linejoin="round">at 4°C</text>
<text x="281.75" y="414.55" font-size="11.61" font-weight="bold" fill="#1e1e1e" stroke="#1e1e1e" stroke-width="0.3" stroke-linejoin="round">VIA</text>
<path d="M306,409.8 L313.7,409.8" fill="none" stroke="#1e1e1e" stroke-width="1.8"/>
<path d="M309.5,405.9 L313.9,409.8 L309.5,413.7" fill="none" stroke="#1e1e1e" stroke-width="1.6" stroke-linejoin="miter" stroke-miterlimit="10"/>
<text x="281.03" y="428.45" font-size="12.04" font-weight="bold" fill="#1e1e1e" stroke="#1e1e1e" stroke-width="0.3" stroke-linejoin="round">HRG-his</text>
<text x="281.51" y="443.25" font-size="11.77" font-weight="bold" fill="#1e1e1e" stroke="#1e1e1e" stroke-width="0.3" stroke-linejoin="round">at 4°C</text>
<text x="281.75" y="483.85" font-size="11.61" font-weight="bold" fill="#1e1e1e" stroke="#1e1e1e" stroke-width="0.3" stroke-linejoin="round">VIA</text>
<path d="M306,479.1 L313.7,479.1" fill="none" stroke="#1e1e1e" stroke-width="1.8"/>
<path d="M309.5,475.2 L313.9,479.1 L309.5,483" fill="none" stroke="#1e1e1e" stroke-width="1.6" stroke-linejoin="miter" stroke-miterlimit="10"/>
<text x="281.03" y="498.25" font-size="12.04" font-weight="bold" fill="#1e1e1e" stroke="#1e1e1e" stroke-width="0.3" stroke-linejoin="round">HRG-his</text>
<text x="281.52" y="512.65" font-size="11.7" font-weight="bold" fill="#1e1e1e" stroke="#1e1e1e" stroke-width="0.3" stroke-linejoin="round">at 37°C</text>
</svg>
</body></html>
